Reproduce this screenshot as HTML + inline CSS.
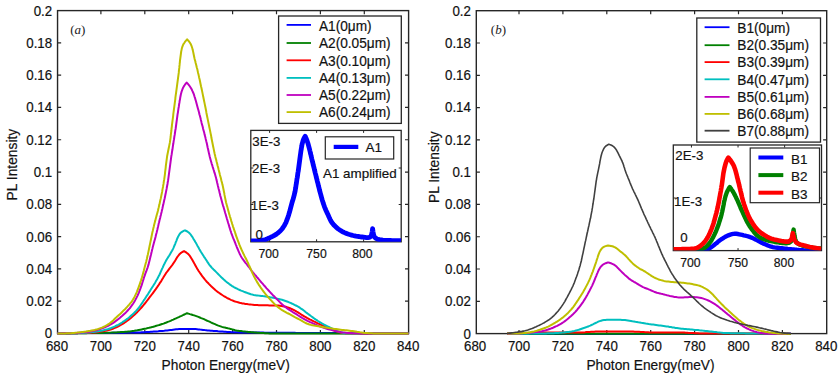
<!DOCTYPE html>
<html><head><meta charset="utf-8"><style>
html,body{margin:0;padding:0;background:#fff;}
body{width:840px;height:377px;overflow:hidden;}
svg{display:block;}
</style></head><body>
<svg width="840" height="377" viewBox="0 0 840 377">
<defs><clipPath id="ca"><rect x="250.8" y="130.4" width="150.4" height="111.4"/></clipPath><clipPath id="cb"><rect x="673.3" y="145" width="148.2" height="105.6"/></clipPath></defs>
<rect width="840" height="377" fill="#fff"/>
<rect x="57.55" y="10.60" width="351.05" height="322.90" fill="none" stroke="#262626" stroke-width="1.4"/>
<path d="M100.90 333.50V329.90M100.90 10.60V14.20M144.80 333.50V329.90M144.80 10.60V14.20M188.70 333.50V329.90M188.70 10.60V14.20M232.60 333.50V329.90M232.60 10.60V14.20M276.50 333.50V329.90M276.50 10.60V14.20M320.40 333.50V329.90M320.40 10.60V14.20M364.30 333.50V329.90M364.30 10.60V14.20M57.55 301.21H61.15M408.60 301.21H405.00M57.55 268.92H61.15M408.60 268.92H405.00M57.55 236.63H61.15M408.60 236.63H405.00M57.55 204.34H61.15M408.60 204.34H405.00M57.55 172.05H61.15M408.60 172.05H405.00M57.55 139.76H61.15M408.60 139.76H405.00M57.55 107.47H61.15M408.60 107.47H405.00M57.55 75.18H61.15M408.60 75.18H405.00M57.55 42.89H61.15M408.60 42.89H405.00" stroke="#262626" stroke-width="1.2" fill="none"/>
<text transform="translate(57.00 350.60) scale(1.000 1.170)" font-family='"Liberation Sans", sans-serif' font-size="13.30" text-anchor="middle" fill="#111" stroke="#111" stroke-width="0.18">680</text>
<text transform="translate(100.90 350.60) scale(1.000 1.170)" font-family='"Liberation Sans", sans-serif' font-size="13.30" text-anchor="middle" fill="#111" stroke="#111" stroke-width="0.18">700</text>
<text transform="translate(144.80 350.60) scale(1.000 1.170)" font-family='"Liberation Sans", sans-serif' font-size="13.30" text-anchor="middle" fill="#111" stroke="#111" stroke-width="0.18">720</text>
<text transform="translate(188.70 350.60) scale(1.000 1.170)" font-family='"Liberation Sans", sans-serif' font-size="13.30" text-anchor="middle" fill="#111" stroke="#111" stroke-width="0.18">740</text>
<text transform="translate(232.60 350.60) scale(1.000 1.170)" font-family='"Liberation Sans", sans-serif' font-size="13.30" text-anchor="middle" fill="#111" stroke="#111" stroke-width="0.18">760</text>
<text transform="translate(276.50 350.60) scale(1.000 1.170)" font-family='"Liberation Sans", sans-serif' font-size="13.30" text-anchor="middle" fill="#111" stroke="#111" stroke-width="0.18">780</text>
<text transform="translate(320.40 350.60) scale(1.000 1.170)" font-family='"Liberation Sans", sans-serif' font-size="13.30" text-anchor="middle" fill="#111" stroke="#111" stroke-width="0.18">800</text>
<text transform="translate(364.30 350.60) scale(1.000 1.170)" font-family='"Liberation Sans", sans-serif' font-size="13.30" text-anchor="middle" fill="#111" stroke="#111" stroke-width="0.18">820</text>
<text transform="translate(408.20 350.60) scale(1.000 1.170)" font-family='"Liberation Sans", sans-serif' font-size="13.30" text-anchor="middle" fill="#111" stroke="#111" stroke-width="0.18">840</text>
<text transform="translate(52.15 338.40) scale(1.000 1.170)" font-family='"Liberation Sans", sans-serif' font-size="13.30" text-anchor="end" fill="#111" stroke="#111" stroke-width="0.18">0</text>
<text transform="translate(52.15 306.11) scale(1.000 1.170)" font-family='"Liberation Sans", sans-serif' font-size="13.30" text-anchor="end" fill="#111" stroke="#111" stroke-width="0.18">0.02</text>
<text transform="translate(52.15 273.82) scale(1.000 1.170)" font-family='"Liberation Sans", sans-serif' font-size="13.30" text-anchor="end" fill="#111" stroke="#111" stroke-width="0.18">0.04</text>
<text transform="translate(52.15 241.53) scale(1.000 1.170)" font-family='"Liberation Sans", sans-serif' font-size="13.30" text-anchor="end" fill="#111" stroke="#111" stroke-width="0.18">0.06</text>
<text transform="translate(52.15 209.24) scale(1.000 1.170)" font-family='"Liberation Sans", sans-serif' font-size="13.30" text-anchor="end" fill="#111" stroke="#111" stroke-width="0.18">0.08</text>
<text transform="translate(52.15 176.95) scale(1.000 1.170)" font-family='"Liberation Sans", sans-serif' font-size="13.30" text-anchor="end" fill="#111" stroke="#111" stroke-width="0.18">0.1</text>
<text transform="translate(52.15 144.66) scale(1.000 1.170)" font-family='"Liberation Sans", sans-serif' font-size="13.30" text-anchor="end" fill="#111" stroke="#111" stroke-width="0.18">0.12</text>
<text transform="translate(52.15 112.37) scale(1.000 1.170)" font-family='"Liberation Sans", sans-serif' font-size="13.30" text-anchor="end" fill="#111" stroke="#111" stroke-width="0.18">0.14</text>
<text transform="translate(52.15 80.08) scale(1.000 1.170)" font-family='"Liberation Sans", sans-serif' font-size="13.30" text-anchor="end" fill="#111" stroke="#111" stroke-width="0.18">0.16</text>
<text transform="translate(52.15 47.79) scale(1.000 1.170)" font-family='"Liberation Sans", sans-serif' font-size="13.30" text-anchor="end" fill="#111" stroke="#111" stroke-width="0.18">0.18</text>
<text transform="translate(52.15 15.50) scale(1.000 1.170)" font-family='"Liberation Sans", sans-serif' font-size="13.30" text-anchor="end" fill="#111" stroke="#111" stroke-width="0.18">0.2</text>
<text transform="translate(225.70 370.10) scale(1.000 1.050)" font-family='"Liberation Sans", sans-serif' font-size="13.75" text-anchor="middle" fill="#111" stroke="#111" stroke-width="0.18">Photon Energy(meV)</text>
<text x="0" y="0" font-family='"Liberation Sans", sans-serif' font-size="13.8" text-anchor="middle" fill="#111" stroke="#111" stroke-width="0.18" transform="translate(17.40 164.60) rotate(-90) scale(1 1.000)">PL Intensity</text>
<path d="M57.5 333.2 L59.0 333.2 L60.5 333.2 L62.0 333.2 L63.5 333.2 L65.0 333.2 L66.5 333.2 L68.0 333.2 L69.5 333.2 L71.0 333.2 L72.5 333.2 L74.0 333.2 L75.5 333.2 L77.0 333.2 L78.6 333.1 L80.1 333.1 L81.6 333.1 L83.1 333.1 L84.6 333.1 L86.1 333.1 L87.6 333.1 L89.1 333.1 L90.6 333.1 L92.1 333.1 L93.6 333.0 L95.1 333.0 L96.6 333.0 L98.1 333.0 L99.6 333.0 L101.1 333.0 L102.6 333.0 L104.1 332.9 L105.6 332.9 L107.1 332.9 L108.6 332.9 L110.1 332.9 L111.6 332.9 L113.1 332.8 L114.6 332.8 L116.1 332.8 L117.6 332.8 L119.1 332.8 L120.6 332.7 L122.2 332.7 L123.7 332.7 L125.2 332.7 L126.7 332.6 L128.2 332.6 L129.7 332.6 L131.2 332.6 L132.7 332.5 L134.2 332.5 L135.7 332.5 L137.2 332.5 L138.7 332.4 L140.2 332.4 L141.7 332.3 L143.2 332.3 L144.7 332.2 L146.2 332.1 L147.7 332.0 L149.2 331.9 L150.7 331.8 L152.2 331.7 L153.7 331.6 L155.2 331.5 L156.7 331.4 L158.2 331.3 L159.7 331.1 L161.2 331.0 L162.7 330.9 L164.2 330.8 L165.7 330.6 L167.2 330.5 L168.7 330.3 L170.2 330.1 L171.7 329.9 L173.1 329.7 L174.6 329.5 L176.1 329.3 L177.6 329.2 L179.1 329.1 L180.6 329.0 L182.1 328.9 L183.6 328.9 L185.1 328.9 L186.6 328.9 L188.1 328.9 L189.6 328.9 L191.1 328.9 L192.6 329.0 L194.1 329.0 L195.6 329.1 L197.1 329.2 L198.6 329.4 L200.1 329.6 L201.6 329.7 L203.1 329.9 L204.6 330.1 L206.1 330.2 L207.6 330.4 L209.1 330.5 L210.6 330.7 L212.1 330.8 L213.6 330.9 L215.1 331.0 L216.6 331.1 L218.1 331.3 L219.6 331.4 L221.1 331.5 L222.6 331.6 L224.1 331.7 L225.6 331.8 L227.1 331.9 L228.6 332.0 L230.1 332.1 L231.6 332.2 L233.1 332.2 L234.6 332.3 L236.1 332.3 L237.6 332.3 L239.1 332.4 L240.6 332.4 L242.1 332.4 L243.6 332.5 L245.1 332.5 L246.6 332.5 L248.1 332.5 L249.6 332.5 L251.1 332.5 L252.6 332.6 L254.1 332.6 L255.6 332.6 L257.1 332.6 L258.6 332.6 L260.1 332.6 L261.7 332.6 L263.2 332.6 L264.7 332.7 L266.2 332.7 L267.7 332.7 L269.2 332.7 L270.7 332.7 L272.2 332.7 L273.7 332.7 L275.2 332.7 L276.7 332.7 L278.2 332.7 L279.7 332.8 L281.2 332.8 L282.7 332.8 L284.2 332.8 L285.7 332.8 L287.2 332.8 L288.7 332.8 L290.2 332.8 L291.7 332.8 L293.2 332.8 L294.7 332.8 L296.2 332.9 L297.7 332.9 L299.2 332.9 L300.7 332.9 L302.2 332.9 L303.8 332.9 L305.3 332.9 L306.8 332.9 L308.3 332.9 L309.8 332.9 L311.3 332.9 L312.8 332.9 L314.3 332.9 L315.8 333.0 L317.3 333.0 L318.8 333.0 L320.3 333.0 L321.8 333.0 L323.3 333.0 L324.8 333.0 L326.3 333.0 L327.8 333.0 L329.3 333.0 L330.8 333.0 L332.3 333.0 L333.8 333.0 L335.3 333.0 L336.8 333.1 L338.3 333.1 L339.8 333.1 L341.3 333.1 L342.8 333.1 L344.3 333.1 L345.9 333.1 L347.4 333.1 L348.9 333.1 L350.4 333.1 L351.9 333.1 L353.4 333.1 L354.9 333.1 L356.4 333.1 L357.9 333.1 L359.4 333.1 L360.9 333.1 L362.4 333.1 L363.9 333.1 L365.4 333.1 L366.9 333.1 L368.4 333.2 L369.9 333.2 L371.4 333.2 L372.9 333.2 L374.4 333.2 L375.9 333.2 L377.4 333.2 L378.9 333.2 L380.4 333.2 L381.9 333.2 L383.4 333.2 L384.9 333.2 L386.4 333.2 L388.0 333.2 L389.5 333.2 L391.0 333.2 L392.5 333.2 L394.0 333.2 L395.5 333.2 L397.0 333.2 L398.5 333.2 L400.0 333.2 L401.5 333.2 L403.0 333.2 L404.5 333.2 L406.0 333.2 L407.5 333.2 L408.5 333.2" fill="none" stroke="#0000ff" stroke-width="2.00" stroke-linejoin="round" stroke-miterlimit="10" stroke-linecap="butt"/>
<path d="M57.5 333.4 L59.0 333.4 L60.5 333.4 L62.0 333.4 L63.5 333.4 L65.0 333.4 L66.5 333.4 L68.1 333.4 L69.6 333.4 L71.1 333.3 L72.6 333.3 L74.1 333.3 L75.6 333.3 L77.1 333.3 L78.6 333.3 L80.1 333.3 L81.6 333.2 L83.1 333.2 L84.6 333.2 L86.2 333.2 L87.7 333.1 L89.2 333.1 L90.7 333.1 L92.2 333.1 L93.7 333.0 L95.2 333.0 L96.7 333.0 L98.2 333.0 L99.7 332.9 L101.2 332.9 L102.7 332.9 L104.2 332.8 L105.8 332.8 L107.3 332.8 L108.8 332.7 L110.3 332.7 L111.8 332.6 L113.3 332.6 L114.8 332.5 L116.3 332.4 L117.8 332.3 L119.3 332.2 L120.8 332.1 L122.3 332.0 L123.8 331.9 L125.3 331.8 L126.8 331.7 L128.3 331.5 L129.8 331.4 L131.3 331.2 L132.8 331.0 L134.3 330.8 L135.8 330.5 L137.3 330.3 L138.8 330.0 L140.3 329.7 L141.7 329.4 L143.2 329.1 L144.7 328.8 L146.2 328.5 L147.6 328.1 L149.1 327.8 L150.6 327.4 L152.0 327.1 L153.5 326.7 L154.9 326.3 L156.4 325.8 L157.8 325.4 L159.3 325.0 L160.7 324.5 L162.1 324.0 L163.6 323.6 L165.0 323.0 L166.4 322.5 L167.8 321.9 L169.2 321.4 L170.6 320.8 L171.9 320.2 L173.3 319.6 L174.7 318.9 L176.1 318.3 L177.5 317.7 L178.8 317.1 L180.2 316.4 L181.6 315.8 L182.9 315.2 L184.3 314.5 L185.6 313.9 L187.0 313.2 L188.4 313.6 L189.9 314.1 L191.3 314.5 L192.8 315.0 L194.2 315.4 L195.6 315.9 L197.0 316.4 L198.4 316.9 L199.8 317.5 L201.2 318.1 L202.6 318.6 L204.0 319.2 L205.4 319.9 L206.7 320.5 L208.1 321.1 L209.5 321.7 L210.9 322.4 L212.2 323.0 L213.6 323.6 L215.0 324.2 L216.4 324.8 L217.7 325.4 L219.1 325.9 L220.6 326.4 L222.0 326.9 L223.4 327.3 L224.9 327.6 L226.4 327.9 L227.8 328.3 L229.3 328.6 L230.7 329.0 L232.2 329.4 L233.6 329.8 L235.1 330.2 L236.5 330.5 L238.0 330.7 L239.5 330.9 L241.0 331.1 L242.5 331.3 L244.0 331.4 L245.5 331.6 L247.0 331.7 L248.5 331.9 L250.0 332.0 L251.5 332.2 L253.0 332.3 L254.5 332.5 L256.0 332.6 L257.5 332.7 L259.0 332.8 L260.5 332.9 L262.0 333.0 L263.5 333.1 L265.0 333.2 L266.5 333.3 L268.0 333.3 L269.5 333.4 L271.0 333.4 L272.5 333.4 L274.0 333.4 L275.5 333.4 L277.0 333.4 L278.5 333.4 L280.0 333.4 L281.5 333.4 L283.1 333.4 L284.6 333.4 L286.1 333.4 L287.6 333.4 L289.1 333.4 L290.6 333.4 L292.1 333.4 L293.6 333.4 L295.1 333.4 L296.6 333.4 L298.1 333.4 L299.6 333.4 L301.1 333.4 L302.6 333.4 L304.1 333.4 L305.6 333.4 L307.1 333.4 L308.6 333.4 L310.1 333.4 L311.7 333.4 L313.2 333.4 L314.7 333.4 L316.2 333.4 L317.7 333.4 L319.2 333.4 L320.7 333.4 L322.2 333.4 L323.7 333.4 L325.2 333.4 L326.7 333.4 L328.2 333.4 L329.7 333.4 L331.2 333.4 L332.7 333.4 L334.2 333.4 L335.7 333.4 L337.2 333.4 L338.7 333.4 L340.3 333.4 L341.8 333.4 L343.3 333.4 L344.8 333.4 L346.3 333.4 L347.8 333.4 L349.3 333.4 L350.8 333.4 L352.3 333.4 L353.8 333.4 L355.3 333.4 L356.8 333.4 L358.3 333.4 L359.8 333.4 L361.3 333.4 L362.8 333.4 L364.3 333.4 L365.8 333.4 L367.4 333.4 L368.9 333.4 L370.4 333.4 L371.9 333.4 L373.4 333.4 L374.9 333.4 L376.4 333.4 L377.9 333.4 L379.4 333.4 L380.9 333.4 L382.4 333.4 L383.9 333.4 L385.4 333.4 L386.9 333.4 L388.4 333.4 L389.9 333.4 L391.4 333.4 L392.9 333.4 L394.4 333.4 L396.0 333.4 L397.5 333.4 L399.0 333.4 L400.5 333.4 L402.0 333.4 L403.5 333.4 L405.0 333.4 L406.5 333.4 L408.0 333.4 L408.5 333.4" fill="none" stroke="#008000" stroke-width="2.00" stroke-linejoin="round" stroke-miterlimit="10" stroke-linecap="butt"/>
<path d="M57.5 333.4 L59.0 333.4 L60.5 333.4 L62.0 333.4 L63.5 333.4 L65.0 333.4 L66.5 333.3 L68.0 333.3 L69.6 333.3 L71.1 333.3 L72.6 333.3 L74.1 333.2 L75.6 333.2 L77.1 333.2 L78.6 333.1 L80.1 333.1 L81.6 333.1 L83.1 333.0 L84.6 333.0 L86.1 332.9 L87.6 332.9 L89.1 332.8 L90.6 332.7 L92.1 332.6 L93.6 332.5 L95.1 332.4 L96.6 332.2 L98.1 332.0 L99.6 331.8 L101.1 331.6 L102.6 331.3 L104.1 331.1 L105.6 330.8 L107.0 330.5 L108.5 330.1 L109.9 329.7 L111.4 329.3 L112.8 328.8 L114.2 328.2 L115.6 327.6 L116.9 327.0 L118.3 326.3 L119.6 325.6 L120.9 324.9 L122.2 324.2 L123.5 323.4 L124.8 322.5 L126.0 321.7 L127.2 320.8 L128.4 319.9 L129.6 319.0 L130.8 318.0 L131.9 317.0 L133.0 316.0 L134.2 315.0 L135.3 314.0 L136.3 312.9 L137.4 311.9 L138.4 310.8 L139.5 309.7 L140.5 308.6 L141.5 307.5 L142.5 306.3 L143.5 305.2 L144.4 304.0 L145.4 302.8 L146.3 301.7 L147.2 300.5 L148.1 299.3 L149.0 298.1 L149.9 296.9 L150.9 295.7 L151.8 294.5 L152.7 293.3 L153.6 292.1 L154.5 290.9 L155.4 289.7 L156.3 288.4 L157.1 287.2 L158.0 285.9 L158.8 284.7 L159.6 283.4 L160.5 282.2 L161.3 280.9 L162.1 279.6 L162.9 278.3 L163.6 277.1 L164.4 275.8 L165.2 274.5 L166.0 273.2 L166.9 272.0 L167.8 270.8 L168.7 269.6 L169.6 268.4 L170.6 267.2 L171.5 266.0 L172.4 264.8 L173.2 263.6 L174.1 262.3 L174.9 261.1 L175.7 259.8 L176.4 258.5 L177.2 257.2 L178.1 256.0 L179.0 254.8 L180.0 253.8 L181.1 252.8 L182.3 252.0 L183.6 251.3 L184.0 251.1 L185.3 251.9 L186.5 252.7 L187.6 253.6 L188.7 254.6 L189.7 255.7 L190.5 256.9 L191.3 258.2 L192.1 259.5 L192.8 260.8 L193.5 262.1 L194.3 263.4 L195.0 264.7 L195.7 266.1 L196.5 267.4 L197.2 268.7 L198.0 269.9 L198.8 271.2 L199.7 272.5 L200.5 273.7 L201.4 274.9 L202.2 276.2 L203.2 277.4 L204.1 278.5 L205.0 279.7 L206.0 280.8 L207.0 282.0 L208.1 283.0 L209.1 284.1 L210.2 285.2 L211.2 286.3 L212.3 287.3 L213.4 288.3 L214.5 289.3 L215.6 290.3 L216.8 291.2 L218.0 292.1 L219.3 293.0 L220.5 293.8 L221.8 294.7 L223.0 295.5 L224.3 296.3 L225.6 297.0 L226.9 297.8 L228.2 298.5 L229.6 299.2 L230.9 299.8 L232.3 300.4 L233.7 301.0 L235.1 301.5 L236.5 301.9 L238.0 302.3 L239.4 302.7 L240.9 303.1 L242.4 303.4 L243.8 303.6 L245.3 303.9 L246.8 304.1 L248.3 304.3 L249.8 304.4 L251.3 304.6 L252.8 304.7 L254.3 304.9 L255.8 305.0 L257.3 305.1 L258.8 305.2 L260.3 305.2 L261.8 305.3 L263.3 305.3 L264.8 305.3 L266.3 305.3 L267.8 305.3 L269.3 305.4 L270.8 305.4 L272.3 305.4 L273.8 305.4 L275.3 305.4 L276.8 305.5 L278.3 305.6 L279.8 305.7 L281.3 305.9 L282.8 306.2 L284.3 306.5 L285.7 306.8 L287.2 307.3 L288.6 307.7 L290.0 308.2 L291.4 308.8 L292.7 309.5 L294.1 310.2 L295.4 310.9 L296.7 311.7 L298.0 312.4 L299.2 313.2 L300.5 314.0 L301.8 314.8 L303.1 315.6 L304.3 316.4 L305.7 317.1 L307.0 317.9 L308.3 318.6 L309.6 319.3 L311.0 319.9 L312.3 320.6 L313.7 321.3 L315.0 321.9 L316.4 322.6 L317.7 323.3 L319.1 323.9 L320.4 324.6 L321.8 325.2 L323.2 325.8 L324.5 326.4 L325.9 327.0 L327.3 327.6 L328.7 328.2 L330.1 328.8 L331.4 329.4 L332.8 330.0 L334.2 330.6 L335.6 331.1 L337.0 331.6 L338.5 332.0 L339.9 332.4 L341.4 332.7 L342.9 332.9 L344.3 333.1 L345.8 333.2 L347.3 333.3 L348.8 333.3 L350.3 333.3 L351.8 333.3 L353.3 333.3 L354.8 333.3 L356.4 333.3 L357.9 333.3 L359.4 333.3 L360.9 333.4 L362.4 333.4 L363.9 333.4 L365.4 333.4 L366.9 333.4 L368.4 333.4 L369.9 333.4 L371.4 333.4 L372.9 333.4 L374.4 333.4 L375.9 333.4 L377.4 333.4 L378.9 333.4 L380.4 333.4 L381.9 333.4 L383.4 333.4 L384.9 333.4 L386.4 333.4 L387.9 333.4 L389.4 333.4 L391.0 333.4 L392.5 333.4 L394.0 333.4 L395.5 333.4 L397.0 333.4 L398.5 333.4 L400.0 333.4 L401.5 333.4 L403.0 333.4 L404.5 333.4 L406.0 333.4 L407.5 333.4 L408.5 333.4" fill="none" stroke="#ff0000" stroke-width="2.00" stroke-linejoin="round" stroke-miterlimit="10" stroke-linecap="butt"/>
<path d="M57.5 333.4 L59.0 333.4 L60.5 333.4 L62.0 333.4 L63.5 333.4 L65.0 333.4 L66.5 333.3 L68.1 333.3 L69.6 333.3 L71.1 333.3 L72.6 333.3 L74.1 333.2 L75.6 333.2 L77.1 333.2 L78.6 333.1 L80.1 333.1 L81.6 333.0 L83.1 332.9 L84.6 332.8 L86.1 332.7 L87.6 332.6 L89.1 332.5 L90.6 332.3 L92.1 332.1 L93.6 331.9 L95.1 331.8 L96.6 331.5 L98.1 331.3 L99.6 331.1 L101.1 330.8 L102.6 330.5 L104.0 330.1 L105.5 329.8 L106.9 329.4 L108.4 329.0 L109.8 328.5 L111.2 328.0 L112.6 327.4 L114.0 326.8 L115.4 326.2 L116.7 325.5 L118.1 324.8 L119.4 324.1 L120.7 323.3 L122.0 322.5 L123.2 321.7 L124.5 320.9 L125.7 320.0 L126.9 319.1 L128.1 318.2 L129.3 317.2 L130.4 316.2 L131.5 315.2 L132.7 314.2 L133.8 313.2 L134.8 312.2 L135.9 311.1 L136.9 310.0 L137.9 308.8 L138.8 307.7 L139.7 306.5 L140.6 305.2 L141.4 304.0 L142.3 302.7 L143.1 301.5 L143.9 300.2 L144.8 299.0 L145.6 297.7 L146.4 296.4 L147.3 295.2 L148.1 293.9 L148.9 292.6 L149.7 291.4 L150.5 290.1 L151.3 288.8 L152.1 287.5 L152.9 286.3 L153.7 285.0 L154.5 283.7 L155.3 282.4 L156.0 281.1 L156.8 279.8 L157.5 278.5 L158.2 277.1 L158.9 275.8 L159.6 274.5 L160.2 273.1 L160.8 271.7 L161.4 270.3 L162.0 268.9 L162.7 267.6 L163.3 266.2 L163.9 264.8 L164.6 263.5 L165.3 262.1 L166.0 260.8 L166.7 259.5 L167.5 258.2 L168.3 256.9 L169.1 255.7 L169.9 254.4 L170.7 253.1 L171.4 251.8 L172.2 250.5 L172.9 249.1 L173.5 247.8 L174.1 246.4 L174.7 245.0 L175.3 243.6 L175.8 242.2 L176.4 240.8 L176.9 239.4 L177.5 238.0 L178.1 236.7 L178.8 235.4 L179.6 234.1 L180.5 233.0 L181.6 232.1 L182.8 231.3 L184.1 230.7 L185.0 230.3 L186.3 231.0 L187.6 231.7 L188.7 232.6 L189.8 233.6 L190.8 234.7 L191.6 235.9 L192.5 237.1 L193.2 238.4 L194.0 239.7 L194.8 241.0 L195.5 242.3 L196.3 243.6 L197.0 244.9 L197.7 246.2 L198.5 247.5 L199.2 248.9 L200.0 250.2 L200.7 251.5 L201.5 252.7 L202.3 254.0 L203.1 255.3 L203.9 256.6 L204.8 257.8 L205.6 259.1 L206.4 260.3 L207.2 261.6 L208.1 262.9 L208.9 264.1 L209.8 265.3 L210.8 266.5 L211.7 267.6 L212.8 268.7 L213.8 269.8 L214.9 270.8 L216.0 271.9 L217.0 272.9 L218.1 274.0 L219.2 275.1 L220.2 276.1 L221.3 277.2 L222.4 278.2 L223.5 279.3 L224.6 280.3 L225.7 281.3 L226.9 282.2 L228.1 283.1 L229.3 284.1 L230.5 284.9 L231.7 285.8 L233.0 286.5 L234.3 287.3 L235.6 288.0 L237.0 288.7 L238.3 289.4 L239.7 290.0 L241.1 290.6 L242.5 291.1 L243.9 291.7 L245.3 292.2 L246.7 292.7 L248.1 293.3 L249.5 293.8 L250.9 294.3 L252.4 294.6 L253.8 295.0 L255.3 295.2 L256.8 295.4 L258.3 295.6 L259.8 295.7 L261.3 295.9 L262.8 296.1 L264.3 296.2 L265.8 296.5 L267.3 296.7 L268.7 296.9 L270.2 297.2 L271.7 297.4 L273.2 297.7 L274.7 298.0 L276.1 298.4 L277.6 298.7 L279.1 299.1 L280.5 299.4 L282.0 299.8 L283.4 300.2 L284.8 300.7 L286.3 301.2 L287.7 301.7 L289.1 302.3 L290.5 302.9 L291.8 303.5 L293.2 304.1 L294.5 304.8 L295.9 305.5 L297.2 306.2 L298.5 306.9 L299.8 307.7 L301.0 308.6 L302.3 309.4 L303.5 310.3 L304.7 311.2 L305.8 312.2 L307.0 313.1 L308.2 314.0 L309.4 314.9 L310.6 315.8 L311.9 316.7 L313.1 317.6 L314.3 318.5 L315.5 319.4 L316.8 320.2 L318.0 321.0 L319.3 321.8 L320.6 322.6 L321.9 323.4 L323.2 324.1 L324.5 324.8 L325.8 325.5 L327.2 326.2 L328.6 326.8 L329.9 327.5 L331.3 328.1 L332.6 328.8 L333.9 329.5 L335.3 330.2 L336.6 330.8 L338.0 331.4 L339.4 331.9 L340.9 332.3 L342.3 332.6 L343.8 332.9 L345.3 333.1 L346.8 333.2 L348.3 333.2 L349.8 333.2 L351.3 333.2 L352.8 333.3 L354.3 333.3 L355.8 333.3 L357.3 333.3 L358.8 333.3 L360.3 333.3 L361.8 333.3 L363.3 333.3 L364.8 333.3 L366.3 333.3 L367.8 333.3 L369.4 333.3 L370.9 333.3 L372.4 333.4 L373.9 333.4 L375.4 333.4 L376.9 333.4 L378.4 333.4 L379.9 333.4 L381.4 333.4 L382.9 333.4 L384.4 333.4 L385.9 333.4 L387.4 333.4 L388.9 333.4 L390.4 333.4 L391.9 333.4 L393.4 333.4 L394.9 333.4 L396.5 333.4 L398.0 333.4 L399.5 333.4 L401.0 333.4 L402.5 333.4 L404.0 333.4 L405.5 333.4 L407.0 333.4 L408.5 333.4" fill="none" stroke="#00bfbf" stroke-width="2.00" stroke-linejoin="round" stroke-miterlimit="10" stroke-linecap="butt"/>
<path d="M57.5 333.4 L59.0 333.4 L60.5 333.4 L62.0 333.4 L63.5 333.3 L65.0 333.3 L66.5 333.3 L68.0 333.2 L69.5 333.2 L71.0 333.2 L72.5 333.1 L74.0 333.0 L75.5 333.0 L77.0 332.9 L78.5 332.8 L80.0 332.8 L81.5 332.6 L83.0 332.5 L84.5 332.3 L86.0 332.1 L87.5 331.9 L89.0 331.7 L90.5 331.4 L91.9 331.2 L93.4 330.9 L94.9 330.5 L96.3 330.2 L97.8 329.8 L99.2 329.4 L100.7 328.9 L102.1 328.4 L103.5 327.9 L104.9 327.4 L106.2 326.7 L107.6 326.1 L108.9 325.4 L110.2 324.7 L111.5 323.9 L112.8 323.1 L114.0 322.3 L115.3 321.4 L116.5 320.5 L117.7 319.6 L118.8 318.7 L120.0 317.7 L121.1 316.7 L122.3 315.7 L123.4 314.7 L124.5 313.7 L125.6 312.7 L126.7 311.6 L127.7 310.5 L128.7 309.4 L129.7 308.3 L130.6 307.1 L131.5 305.9 L132.4 304.7 L133.2 303.5 L134.0 302.2 L134.8 300.9 L135.5 299.6 L136.2 298.3 L136.9 296.9 L137.6 295.6 L138.2 294.2 L138.8 292.8 L139.3 291.4 L139.9 290.0 L140.4 288.6 L140.9 287.2 L141.4 285.8 L141.9 284.4 L142.3 282.9 L142.8 281.5 L143.2 280.1 L143.7 278.6 L144.1 277.2 L144.6 275.8 L145.1 274.4 L145.6 272.9 L146.2 271.5 L146.7 270.1 L147.2 268.7 L147.7 267.3 L148.1 265.9 L148.6 264.4 L148.9 263.0 L149.3 261.5 L149.7 260.1 L150.0 258.6 L150.4 257.1 L150.7 255.7 L151.1 254.2 L151.4 252.8 L151.8 251.3 L152.1 249.8 L152.5 248.4 L152.8 246.9 L153.2 245.5 L153.6 244.0 L154.0 242.6 L154.4 241.1 L154.8 239.7 L155.2 238.2 L155.6 236.8 L155.9 235.3 L156.3 233.8 L156.7 232.4 L157.0 230.9 L157.4 229.5 L157.7 228.0 L158.1 226.5 L158.4 225.1 L158.7 223.6 L159.1 222.2 L159.4 220.7 L159.8 219.2 L160.2 217.8 L160.5 216.3 L160.9 214.9 L161.2 213.4 L161.6 211.9 L161.9 210.5 L162.3 209.0 L162.6 207.5 L162.9 206.1 L163.3 204.6 L163.6 203.1 L163.9 201.7 L164.2 200.2 L164.6 198.7 L164.9 197.3 L165.2 195.8 L165.5 194.3 L165.8 192.9 L166.1 191.4 L166.4 189.9 L166.7 188.4 L166.9 187.0 L167.2 185.5 L167.5 184.0 L167.7 182.5 L168.0 181.0 L168.2 179.5 L168.4 178.1 L168.6 176.6 L168.8 175.1 L169.0 173.6 L169.2 172.1 L169.4 170.6 L169.6 169.1 L169.8 167.6 L170.0 166.1 L170.2 164.6 L170.4 163.2 L170.6 161.7 L170.8 160.2 L171.0 158.7 L171.2 157.2 L171.4 155.7 L171.7 154.2 L171.9 152.7 L172.1 151.3 L172.4 149.8 L172.6 148.3 L172.8 146.8 L173.0 145.3 L173.3 143.8 L173.5 142.4 L173.7 140.9 L174.0 139.4 L174.2 137.9 L174.4 136.4 L174.7 134.9 L174.9 133.4 L175.1 132.0 L175.3 130.5 L175.6 129.0 L175.8 127.5 L176.0 126.0 L176.2 124.5 L176.4 123.0 L176.6 121.5 L176.8 120.1 L177.0 118.6 L177.2 117.1 L177.4 115.6 L177.6 114.1 L177.9 112.6 L178.1 111.1 L178.3 109.6 L178.5 108.2 L178.8 106.7 L179.0 105.2 L179.2 103.7 L179.5 102.2 L179.7 100.7 L180.0 99.3 L180.2 97.8 L180.5 96.3 L180.8 94.8 L181.1 93.4 L181.5 91.9 L182.0 90.5 L182.5 89.1 L183.1 87.7 L183.8 86.4 L184.6 85.2 L185.4 84.0 L186.4 83.0 L186.7 82.6 L187.7 83.7 L188.7 84.8 L189.6 86.0 L190.4 87.2 L191.2 88.5 L191.9 89.8 L192.5 91.2 L193.1 92.5 L193.7 93.9 L194.2 95.4 L194.6 96.8 L195.1 98.2 L195.5 99.7 L195.9 101.1 L196.3 102.6 L196.7 104.0 L197.1 105.5 L197.5 106.9 L197.9 108.4 L198.3 109.8 L198.7 111.3 L199.1 112.7 L199.4 114.2 L199.8 115.6 L200.2 117.1 L200.6 118.5 L200.9 120.0 L201.3 121.4 L201.6 122.9 L202.0 124.4 L202.4 125.8 L202.8 127.3 L203.1 128.7 L203.5 130.2 L203.9 131.6 L204.3 133.1 L204.6 134.6 L205.0 136.0 L205.4 137.5 L205.7 138.9 L206.1 140.4 L206.4 141.8 L206.8 143.3 L207.1 144.8 L207.4 146.2 L207.7 147.7 L208.1 149.2 L208.4 150.7 L208.7 152.1 L209.0 153.6 L209.4 155.1 L209.7 156.5 L210.1 158.0 L210.5 159.4 L210.9 160.9 L211.3 162.3 L211.7 163.8 L212.2 165.2 L212.6 166.6 L213.1 168.1 L213.5 169.5 L214.0 170.9 L214.4 172.4 L214.9 173.8 L215.3 175.2 L215.7 176.7 L216.1 178.1 L216.4 179.6 L216.8 181.1 L217.1 182.5 L217.5 184.0 L217.8 185.4 L218.2 186.9 L218.5 188.4 L218.9 189.8 L219.3 191.3 L219.6 192.7 L220.0 194.2 L220.3 195.7 L220.7 197.1 L221.1 198.6 L221.5 200.0 L221.9 201.5 L222.3 202.9 L222.7 204.4 L223.1 205.8 L223.6 207.2 L224.0 208.7 L224.4 210.1 L224.8 211.6 L225.2 213.0 L225.7 214.5 L226.1 215.9 L226.5 217.3 L226.9 218.8 L227.4 220.2 L227.8 221.7 L228.2 223.1 L228.7 224.5 L229.1 226.0 L229.5 227.4 L230.0 228.9 L230.4 230.3 L230.9 231.7 L231.3 233.1 L231.9 234.6 L232.4 236.0 L232.9 237.4 L233.5 238.8 L234.1 240.2 L234.6 241.5 L235.2 242.9 L235.7 244.3 L236.3 245.7 L236.8 247.1 L237.4 248.5 L238.0 249.9 L238.6 251.3 L239.2 252.7 L239.8 254.0 L240.5 255.4 L241.2 256.7 L242.0 258.0 L242.8 259.2 L243.7 260.4 L244.6 261.6 L245.5 262.8 L246.5 263.9 L247.4 265.1 L248.3 266.3 L249.2 267.5 L250.1 268.7 L251.0 269.9 L251.9 271.1 L252.9 272.3 L253.8 273.4 L254.8 274.6 L255.8 275.7 L256.7 276.9 L257.7 278.0 L258.7 279.2 L259.7 280.3 L260.6 281.5 L261.6 282.6 L262.6 283.7 L263.6 284.9 L264.6 286.0 L265.6 287.1 L266.6 288.3 L267.6 289.4 L268.6 290.5 L269.6 291.6 L270.6 292.7 L271.7 293.8 L272.7 294.9 L273.8 295.9 L274.8 297.0 L275.9 298.1 L276.9 299.1 L278.0 300.2 L279.0 301.3 L280.1 302.4 L281.2 303.4 L282.3 304.4 L283.4 305.4 L284.5 306.4 L285.7 307.3 L286.9 308.2 L288.2 309.1 L289.4 309.9 L290.7 310.7 L291.9 311.5 L293.2 312.3 L294.5 313.1 L295.8 313.9 L297.1 314.7 L298.3 315.5 L299.6 316.3 L300.9 317.1 L302.1 317.9 L303.4 318.6 L304.7 319.4 L306.1 320.1 L307.4 320.8 L308.7 321.4 L310.1 322.1 L311.5 322.7 L312.8 323.3 L314.2 323.9 L315.6 324.6 L316.9 325.2 L318.3 325.8 L319.7 326.4 L321.1 326.9 L322.5 327.4 L323.9 327.9 L325.4 328.3 L326.8 328.8 L328.3 329.2 L329.7 329.5 L331.2 329.9 L332.6 330.3 L334.1 330.6 L335.6 331.0 L337.0 331.3 L338.5 331.6 L340.0 331.9 L341.4 332.2 L342.9 332.4 L344.4 332.6 L345.9 332.8 L347.4 333.0 L348.9 333.1 L350.4 333.1 L351.9 333.2 L353.4 333.2 L354.9 333.3 L356.4 333.3 L357.9 333.3 L359.4 333.4 L360.9 333.4 L362.4 333.4 L363.9 333.4 L365.4 333.4 L366.9 333.4 L368.4 333.4 L369.9 333.4 L371.4 333.4 L372.9 333.4 L374.4 333.4 L375.9 333.4 L377.4 333.4 L378.9 333.4 L380.4 333.4 L381.9 333.4 L383.4 333.4 L385.0 333.4 L386.5 333.4 L388.0 333.4 L389.5 333.4 L391.0 333.4 L392.5 333.4 L394.0 333.4 L395.5 333.4 L397.0 333.4 L398.5 333.4 L400.0 333.4 L401.5 333.4 L403.0 333.4 L404.5 333.4 L406.0 333.4 L407.5 333.4 L408.5 333.4" fill="none" stroke="#bf00bf" stroke-width="2.00" stroke-linejoin="round" stroke-miterlimit="10" stroke-linecap="butt"/>
<path d="M57.5 333.4 L59.0 333.4 L60.5 333.4 L62.0 333.4 L63.5 333.4 L65.0 333.4 L66.5 333.3 L68.0 333.3 L69.5 333.3 L71.0 333.2 L72.5 333.0 L74.0 332.9 L75.5 332.7 L77.0 332.6 L78.5 332.4 L80.0 332.2 L81.5 332.1 L82.9 331.9 L84.4 331.7 L85.9 331.5 L87.4 331.2 L88.9 331.0 L90.4 330.8 L91.8 330.5 L93.3 330.2 L94.8 329.9 L96.2 329.5 L97.7 329.1 L99.1 328.6 L100.5 328.1 L101.9 327.6 L103.3 327.0 L104.6 326.4 L106.0 325.7 L107.3 324.9 L108.5 324.1 L109.8 323.3 L110.9 322.3 L112.1 321.4 L113.2 320.4 L114.3 319.3 L115.3 318.3 L116.4 317.3 L117.5 316.2 L118.6 315.2 L119.8 314.2 L120.9 313.2 L121.9 312.2 L123.0 311.1 L124.1 310.1 L125.2 309.0 L126.2 307.9 L127.2 306.8 L128.2 305.7 L129.2 304.6 L130.2 303.4 L131.1 302.3 L132.0 301.1 L132.9 299.8 L133.6 298.5 L134.4 297.2 L135.0 295.9 L135.7 294.5 L136.3 293.2 L136.9 291.8 L137.4 290.4 L138.0 289.0 L138.5 287.6 L139.0 286.2 L139.5 284.8 L140.0 283.4 L140.5 281.9 L141.0 280.5 L141.4 279.1 L141.9 277.6 L142.3 276.2 L142.7 274.7 L143.1 273.3 L143.5 271.8 L143.9 270.4 L144.2 268.9 L144.6 267.5 L145.0 266.0 L145.4 264.6 L145.8 263.1 L146.2 261.7 L146.5 260.2 L146.9 258.8 L147.2 257.3 L147.5 255.8 L147.9 254.4 L148.2 252.9 L148.5 251.4 L148.8 250.0 L149.1 248.5 L149.4 247.0 L149.7 245.5 L150.0 244.1 L150.3 242.6 L150.6 241.1 L150.9 239.7 L151.2 238.2 L151.5 236.7 L151.8 235.2 L152.1 233.8 L152.4 232.3 L152.8 230.8 L153.1 229.4 L153.4 227.9 L153.8 226.4 L154.1 225.0 L154.5 223.5 L154.9 222.1 L155.3 220.6 L155.6 219.2 L156.0 217.7 L156.4 216.3 L156.8 214.8 L157.2 213.4 L157.6 211.9 L158.0 210.5 L158.3 209.0 L158.7 207.5 L159.0 206.1 L159.4 204.6 L159.7 203.2 L160.0 201.7 L160.3 200.2 L160.7 198.7 L161.0 197.3 L161.3 195.8 L161.6 194.3 L161.9 192.9 L162.2 191.4 L162.4 189.9 L162.7 188.4 L163.0 187.0 L163.2 185.5 L163.5 184.0 L163.7 182.5 L163.9 181.0 L164.2 179.5 L164.4 178.1 L164.6 176.6 L164.8 175.1 L165.0 173.6 L165.1 172.1 L165.3 170.6 L165.5 169.1 L165.7 167.6 L165.8 166.1 L166.0 164.6 L166.2 163.1 L166.4 161.6 L166.6 160.2 L166.8 158.7 L167.0 157.2 L167.2 155.7 L167.5 154.2 L167.8 152.8 L168.1 151.3 L168.4 149.8 L168.7 148.3 L169.0 146.9 L169.3 145.4 L169.6 143.9 L169.9 142.4 L170.1 141.0 L170.3 139.5 L170.5 138.0 L170.7 136.5 L170.8 135.0 L171.0 133.5 L171.2 132.0 L171.4 130.5 L171.5 129.0 L171.7 127.5 L171.9 126.0 L172.0 124.6 L172.2 123.1 L172.4 121.6 L172.6 120.1 L172.8 118.6 L173.0 117.1 L173.2 115.6 L173.3 114.1 L173.5 112.6 L173.7 111.1 L173.9 109.6 L174.1 108.2 L174.3 106.7 L174.5 105.2 L174.7 103.7 L174.9 102.2 L175.1 100.7 L175.3 99.2 L175.4 97.7 L175.6 96.2 L175.8 94.7 L176.0 93.3 L176.2 91.8 L176.4 90.3 L176.6 88.8 L176.8 87.3 L177.0 85.8 L177.2 84.3 L177.4 82.8 L177.6 81.3 L177.8 79.9 L178.0 78.4 L178.2 76.9 L178.4 75.4 L178.6 73.9 L178.8 72.4 L178.9 70.9 L179.1 69.4 L179.3 67.9 L179.4 66.4 L179.6 64.9 L179.7 63.4 L179.9 62.0 L180.0 60.5 L180.2 59.0 L180.4 57.5 L180.6 56.0 L180.8 54.5 L181.0 53.0 L181.2 51.5 L181.5 50.1 L181.8 48.6 L182.2 47.2 L182.7 45.8 L183.3 44.4 L184.1 43.2 L184.9 41.9 L185.8 40.8 L186.8 39.7 L187.1 39.3 L188.1 40.4 L189.0 41.5 L189.9 42.7 L190.7 44.0 L191.3 45.4 L191.8 46.7 L192.3 48.2 L192.6 49.6 L193.0 51.1 L193.3 52.5 L193.6 54.0 L193.9 55.5 L194.2 57.0 L194.5 58.4 L194.9 59.9 L195.3 61.3 L195.6 62.8 L196.0 64.3 L196.4 65.7 L196.7 67.2 L197.1 68.6 L197.5 70.1 L197.8 71.6 L198.1 73.0 L198.5 74.5 L198.8 75.9 L199.1 77.4 L199.5 78.9 L199.8 80.3 L200.1 81.8 L200.4 83.3 L200.7 84.8 L201.0 86.2 L201.4 87.7 L201.7 89.2 L202.0 90.6 L202.3 92.1 L202.6 93.6 L202.9 95.1 L203.2 96.5 L203.5 98.0 L203.8 99.5 L204.1 101.0 L204.4 102.4 L204.7 103.9 L205.0 105.4 L205.3 106.8 L205.6 108.3 L205.9 109.8 L206.2 111.3 L206.4 112.7 L206.7 114.2 L207.0 115.7 L207.3 117.2 L207.6 118.6 L207.9 120.1 L208.2 121.6 L208.5 123.1 L208.8 124.5 L209.1 126.0 L209.4 127.5 L209.7 128.9 L210.0 130.4 L210.3 131.9 L210.6 133.4 L210.9 134.8 L211.2 136.3 L211.4 137.8 L211.7 139.3 L212.0 140.7 L212.3 142.2 L212.6 143.7 L212.9 145.2 L213.2 146.7 L213.5 148.1 L213.8 149.6 L214.1 151.1 L214.4 152.5 L214.7 154.0 L215.1 155.5 L215.4 156.9 L215.8 158.4 L216.2 159.8 L216.5 161.3 L216.9 162.7 L217.3 164.2 L217.6 165.7 L218.0 167.1 L218.4 168.6 L218.7 170.0 L219.1 171.5 L219.5 173.0 L219.8 174.4 L220.2 175.9 L220.6 177.3 L221.0 178.8 L221.3 180.2 L221.7 181.7 L222.1 183.1 L222.4 184.6 L222.8 186.1 L223.1 187.5 L223.4 189.0 L223.7 190.5 L224.0 192.0 L224.3 193.4 L224.5 194.9 L224.8 196.4 L225.1 197.9 L225.4 199.3 L225.7 200.8 L226.0 202.3 L226.4 203.7 L226.8 205.2 L227.2 206.6 L227.6 208.1 L228.0 209.5 L228.4 211.0 L228.8 212.4 L229.2 213.9 L229.6 215.3 L230.0 216.8 L230.5 218.2 L230.9 219.6 L231.3 221.1 L231.8 222.5 L232.2 224.0 L232.7 225.4 L233.1 226.8 L233.6 228.2 L234.1 229.7 L234.6 231.1 L235.1 232.5 L235.5 233.9 L236.0 235.4 L236.5 236.8 L237.0 238.2 L237.5 239.6 L238.0 241.0 L238.6 242.4 L239.1 243.8 L239.6 245.2 L240.2 246.6 L240.8 248.0 L241.4 249.4 L242.0 250.8 L242.7 252.1 L243.3 253.5 L244.0 254.8 L244.6 256.2 L245.3 257.5 L246.0 258.8 L246.7 260.2 L247.3 261.5 L248.0 262.9 L248.6 264.3 L249.2 265.6 L249.8 267.0 L250.4 268.4 L251.0 269.8 L251.6 271.2 L252.2 272.5 L252.8 273.9 L253.5 275.3 L254.1 276.6 L254.8 277.9 L255.5 279.3 L256.3 280.6 L257.0 281.9 L257.8 283.1 L258.6 284.4 L259.4 285.7 L260.3 286.9 L261.1 288.2 L262.0 289.4 L262.9 290.6 L263.8 291.8 L264.7 293.0 L265.6 294.2 L266.6 295.3 L267.5 296.5 L268.5 297.6 L269.5 298.7 L270.6 299.8 L271.6 300.9 L272.6 302.0 L273.7 303.1 L274.7 304.2 L275.8 305.2 L276.9 306.2 L278.1 307.2 L279.3 308.1 L280.5 309.0 L281.7 309.8 L283.0 310.6 L284.3 311.4 L285.6 312.1 L286.9 312.8 L288.3 313.5 L289.6 314.2 L290.9 314.9 L292.2 315.6 L293.5 316.3 L294.9 317.1 L296.2 317.8 L297.5 318.5 L298.8 319.2 L300.2 319.9 L301.5 320.6 L302.8 321.4 L304.0 322.1 L305.4 322.8 L306.7 323.5 L308.1 324.0 L309.5 324.5 L311.0 324.9 L312.4 325.2 L313.9 325.5 L315.4 325.7 L316.9 326.0 L318.3 326.3 L319.8 326.5 L321.3 326.8 L322.8 327.1 L324.2 327.4 L325.7 327.6 L327.2 327.8 L328.7 328.1 L330.2 328.3 L331.7 328.5 L333.2 328.7 L334.6 328.9 L336.1 329.1 L337.6 329.3 L339.1 329.5 L340.6 329.7 L342.1 329.9 L343.6 330.0 L345.1 330.2 L346.6 330.3 L348.1 330.5 L349.6 330.7 L351.1 330.9 L352.6 331.1 L354.0 331.3 L355.5 331.5 L357.0 331.8 L358.5 332.0 L360.0 332.3 L361.5 332.5 L362.9 332.7 L364.4 332.9 L365.9 333.0 L367.4 333.1 L368.9 333.2 L370.4 333.3 L371.9 333.3 L373.4 333.4 L374.9 333.4 L376.4 333.4 L377.9 333.4 L379.4 333.4 L380.9 333.4 L382.4 333.4 L383.9 333.4 L385.5 333.4 L387.0 333.4 L388.5 333.4 L390.0 333.4 L391.5 333.4 L393.0 333.4 L394.5 333.4 L396.0 333.4 L397.5 333.4 L399.0 333.4 L400.5 333.4 L402.0 333.4 L403.5 333.4 L405.0 333.4 L406.5 333.4 L408.0 333.4 L408.5 333.4" fill="none" stroke="#bfbf00" stroke-width="2.00" stroke-linejoin="round" stroke-miterlimit="10" stroke-linecap="butt"/>
<text x="70.2" y="33.6" font-family='"Liberation Serif", serif' font-size="13" fill="#222">(<tspan font-style="italic" dy="0.8">a</tspan><tspan dy="-0.8">)</tspan></text>
<rect x="278.60" y="16.00" width="122.70" height="107.40" fill="#fff" stroke="#262626" stroke-width="1.3"/>
<path d="M286.60 24.90H311.00" stroke="#0000ff" stroke-width="1.80"/>
<text transform="translate(318.90 31.00) scale(1.000 1.030)" font-family='"Liberation Sans", sans-serif' font-size="13.70" text-anchor="start" fill="#111" stroke="#111" stroke-width="0.18">A1(0μm)</text>
<path d="M286.60 43.00H311.00" stroke="#008000" stroke-width="1.80"/>
<text transform="translate(318.90 48.30) scale(1.000 1.030)" font-family='"Liberation Sans", sans-serif' font-size="13.70" text-anchor="start" fill="#111" stroke="#111" stroke-width="0.18">A2(0.05μm)</text>
<path d="M286.60 60.30H311.00" stroke="#ff0000" stroke-width="1.80"/>
<text transform="translate(318.90 65.50) scale(1.000 1.030)" font-family='"Liberation Sans", sans-serif' font-size="13.70" text-anchor="start" fill="#111" stroke="#111" stroke-width="0.18">A3(0.10μm)</text>
<path d="M286.60 77.90H311.00" stroke="#00bfbf" stroke-width="1.80"/>
<text transform="translate(318.90 83.00) scale(1.000 1.030)" font-family='"Liberation Sans", sans-serif' font-size="13.70" text-anchor="start" fill="#111" stroke="#111" stroke-width="0.18">A4(0.13μm)</text>
<path d="M286.60 95.00H311.00" stroke="#bf00bf" stroke-width="1.80"/>
<text transform="translate(318.90 100.10) scale(1.000 1.030)" font-family='"Liberation Sans", sans-serif' font-size="13.70" text-anchor="start" fill="#111" stroke="#111" stroke-width="0.18">A5(0.22μm)</text>
<path d="M286.60 112.10H311.00" stroke="#bfbf00" stroke-width="1.80"/>
<text transform="translate(318.90 117.20) scale(1.000 1.030)" font-family='"Liberation Sans", sans-serif' font-size="13.70" text-anchor="start" fill="#111" stroke="#111" stroke-width="0.18">A6(0.24μm)</text>
<rect x="250.80" y="130.40" width="150.40" height="111.40" fill="#fff" stroke="#262626" stroke-width="1.3"/>
<path d="M269.60 241.80V239.30M269.60 130.40V132.90M316.60 241.80V239.30M316.60 130.40V132.90M363.60 241.80V239.30M363.60 130.40V132.90M250.80 204.50H253.30M401.20 204.50H398.70M250.80 168.00H253.30M401.20 168.00H398.70" stroke="#262626" stroke-width="1" fill="none"/>
<path d="M250.8 241.0 L252.3 241.0 L253.8 240.9 L255.3 240.9 L256.8 240.8 L258.3 240.7 L259.8 240.6 L261.3 240.5 L262.8 240.2 L264.3 239.9 L265.7 239.5 L267.1 238.9 L268.5 238.3 L269.9 237.7 L271.2 237.0 L272.6 236.4 L273.9 235.7 L275.2 234.9 L276.5 234.1 L277.7 233.2 L278.8 232.2 L279.9 231.2 L281.0 230.1 L282.0 229.0 L282.9 227.8 L283.7 226.5 L284.5 225.3 L285.2 223.9 L285.9 222.6 L286.4 221.2 L287.0 219.8 L287.5 218.4 L288.0 216.9 L288.5 215.5 L288.9 214.1 L289.4 212.6 L289.8 211.2 L290.2 209.7 L290.5 208.3 L290.9 206.8 L291.3 205.3 L291.7 203.9 L292.1 202.4 L292.5 201.0 L293.0 199.5 L293.4 198.1 L293.8 196.6 L294.2 195.2 L294.5 193.7 L294.9 192.2 L295.2 190.8 L295.4 189.3 L295.7 187.8 L295.9 186.3 L296.1 184.8 L296.4 183.3 L296.6 181.8 L296.8 180.3 L297.0 178.8 L297.3 177.4 L297.5 175.9 L297.7 174.4 L297.9 172.9 L298.2 171.4 L298.4 169.9 L298.6 168.4 L298.8 166.9 L299.0 165.4 L299.2 163.9 L299.4 162.4 L299.6 160.9 L299.8 159.4 L300.0 157.9 L300.2 156.4 L300.4 154.9 L300.6 153.5 L300.8 152.0 L301.0 150.5 L301.3 149.0 L301.5 147.5 L301.8 146.0 L302.0 144.5 L302.4 143.1 L302.8 141.6 L303.2 140.2 L303.8 138.8 L304.4 137.5 L305.2 136.2 L305.8 137.6 L306.4 139.0 L306.9 140.4 L307.4 141.8 L307.9 143.2 L308.3 144.7 L308.7 146.1 L309.1 147.6 L309.5 149.1 L309.8 150.5 L310.2 152.0 L310.5 153.5 L310.9 154.9 L311.2 156.4 L311.6 157.9 L311.9 159.3 L312.3 160.8 L312.6 162.2 L313.0 163.7 L313.3 165.2 L313.7 166.6 L314.1 168.1 L314.4 169.6 L314.8 171.0 L315.1 172.5 L315.5 174.0 L315.9 175.4 L316.2 176.9 L316.6 178.4 L317.0 179.8 L317.3 181.3 L317.7 182.7 L318.1 184.2 L318.4 185.7 L318.8 187.1 L319.2 188.6 L319.5 190.1 L319.9 191.5 L320.3 193.0 L320.7 194.4 L321.1 195.9 L321.5 197.3 L321.9 198.8 L322.3 200.2 L322.8 201.7 L323.2 203.1 L323.7 204.5 L324.2 206.0 L324.7 207.4 L325.3 208.8 L325.9 210.2 L326.5 211.5 L327.1 212.9 L327.8 214.3 L328.4 215.6 L329.0 217.0 L329.7 218.4 L330.3 219.7 L331.0 221.1 L331.8 222.3 L332.7 223.6 L333.6 224.7 L334.7 225.8 L335.8 226.9 L336.9 227.8 L338.1 228.8 L339.3 229.7 L340.6 230.5 L341.8 231.3 L343.2 232.0 L344.5 232.6 L345.9 233.2 L347.3 233.8 L348.7 234.3 L350.2 234.7 L351.6 235.1 L353.1 235.5 L354.6 235.8 L356.0 236.1 L357.5 236.3 L359.0 236.5 L360.5 236.8 L362.0 237.0 L363.5 237.2 L365.0 237.4 L366.5 237.6 L367.9 237.6 L369.3 237.4 L370.4 236.8 L371.2 235.8 L371.6 234.5 L371.9 233.1 L372.2 231.6 L372.4 230.1 L372.6 228.6 L372.8 230.1 L373.0 231.6 L373.3 233.1 L373.6 234.6 L374.0 236.0 L374.7 237.3 L375.7 238.2 L377.0 238.9 L378.4 239.4 L379.9 239.8 L381.4 240.0 L382.9 240.2 L384.4 240.3 L385.9 240.4 L387.5 240.4 L389.0 240.5 L390.5 240.5 L392.0 240.6 L393.6 240.6 L395.1 240.6 L396.6 240.7 L398.1 240.7 L399.7 240.7 L401.2 240.7" fill="none" stroke="#0000ff" stroke-width="4.80" stroke-linejoin="round" stroke-miterlimit="10" stroke-linecap="butt" clip-path="url(#ca)"/>
<text transform="translate(268.60 258.20) scale(1.000 1.000)" font-family='"Liberation Sans", sans-serif' font-size="12.20" text-anchor="middle" fill="#111" stroke="#111" stroke-width="0.18">700</text>
<text transform="translate(316.50 258.20) scale(1.000 1.000)" font-family='"Liberation Sans", sans-serif' font-size="12.20" text-anchor="middle" fill="#111" stroke="#111" stroke-width="0.18">750</text>
<text transform="translate(362.40 258.20) scale(1.000 1.000)" font-family='"Liberation Sans", sans-serif' font-size="12.20" text-anchor="middle" fill="#111" stroke="#111" stroke-width="0.18">800</text>
<text transform="translate(252.30 145.50) scale(1.000 1.000)" font-family='"Liberation Sans", sans-serif' font-size="13.30" text-anchor="start" fill="#111" stroke="#111" stroke-width="0.18">3E-3</text>
<text transform="translate(252.00 173.40) scale(1.000 1.000)" font-family='"Liberation Sans", sans-serif' font-size="13.30" text-anchor="start" fill="#111" stroke="#111" stroke-width="0.18">2E-3</text>
<text transform="translate(250.80 210.20) scale(1.000 1.000)" font-family='"Liberation Sans", sans-serif' font-size="13.30" text-anchor="start" fill="#111" stroke="#111" stroke-width="0.18">1E-3</text>
<text transform="translate(255.50 238.80) scale(1.000 1.000)" font-family='"Liberation Sans", sans-serif' font-size="13.30" text-anchor="start" fill="#111" stroke="#111" stroke-width="0.18">0</text>
<rect x="325.3" y="136.8" width="68.4" height="22.2" fill="#fff" stroke="#262626" stroke-width="1.2"/>
<path d="M333.7 146.9H358.3" stroke="#0000ff" stroke-width="4.2"/>
<text transform="translate(365.60 152.20) scale(1.000 1.000)" font-family='"Liberation Sans", sans-serif' font-size="13.50" text-anchor="start" fill="#111" stroke="#111" stroke-width="0.18">A1</text>
<text transform="translate(323.00 177.90) scale(1.000 1.000)" font-family='"Liberation Sans", sans-serif' font-size="13.40" text-anchor="start" fill="#111" stroke="#111" stroke-width="0.18">A1 amplified</text>
<rect x="476.30" y="10.70" width="350.40" height="322.90" fill="none" stroke="#262626" stroke-width="1.4"/>
<path d="M519.00 333.60V330.00M519.00 10.70V14.30M562.90 333.60V330.00M562.90 10.70V14.30M606.80 333.60V330.00M606.80 10.70V14.30M650.70 333.60V330.00M650.70 10.70V14.30M694.60 333.60V330.00M694.60 10.70V14.30M738.50 333.60V330.00M738.50 10.70V14.30M782.40 333.60V330.00M782.40 10.70V14.30M476.30 301.31H479.90M826.70 301.31H823.10M476.30 269.02H479.90M826.70 269.02H823.10M476.30 236.73H479.90M826.70 236.73H823.10M476.30 204.44H479.90M826.70 204.44H823.10M476.30 172.15H479.90M826.70 172.15H823.10M476.30 139.86H479.90M826.70 139.86H823.10M476.30 107.57H479.90M826.70 107.57H823.10M476.30 75.28H479.90M826.70 75.28H823.10M476.30 42.99H479.90M826.70 42.99H823.10" stroke="#262626" stroke-width="1.2" fill="none"/>
<text transform="translate(475.10 350.60) scale(1.000 1.170)" font-family='"Liberation Sans", sans-serif' font-size="13.30" text-anchor="middle" fill="#111" stroke="#111" stroke-width="0.18">680</text>
<text transform="translate(519.00 350.60) scale(1.000 1.170)" font-family='"Liberation Sans", sans-serif' font-size="13.30" text-anchor="middle" fill="#111" stroke="#111" stroke-width="0.18">700</text>
<text transform="translate(562.90 350.60) scale(1.000 1.170)" font-family='"Liberation Sans", sans-serif' font-size="13.30" text-anchor="middle" fill="#111" stroke="#111" stroke-width="0.18">720</text>
<text transform="translate(606.80 350.60) scale(1.000 1.170)" font-family='"Liberation Sans", sans-serif' font-size="13.30" text-anchor="middle" fill="#111" stroke="#111" stroke-width="0.18">740</text>
<text transform="translate(650.70 350.60) scale(1.000 1.170)" font-family='"Liberation Sans", sans-serif' font-size="13.30" text-anchor="middle" fill="#111" stroke="#111" stroke-width="0.18">760</text>
<text transform="translate(694.60 350.60) scale(1.000 1.170)" font-family='"Liberation Sans", sans-serif' font-size="13.30" text-anchor="middle" fill="#111" stroke="#111" stroke-width="0.18">780</text>
<text transform="translate(738.50 350.60) scale(1.000 1.170)" font-family='"Liberation Sans", sans-serif' font-size="13.30" text-anchor="middle" fill="#111" stroke="#111" stroke-width="0.18">800</text>
<text transform="translate(782.40 350.60) scale(1.000 1.170)" font-family='"Liberation Sans", sans-serif' font-size="13.30" text-anchor="middle" fill="#111" stroke="#111" stroke-width="0.18">820</text>
<text transform="translate(826.30 350.60) scale(1.000 1.170)" font-family='"Liberation Sans", sans-serif' font-size="13.30" text-anchor="middle" fill="#111" stroke="#111" stroke-width="0.18">840</text>
<text transform="translate(470.90 338.50) scale(1.000 1.170)" font-family='"Liberation Sans", sans-serif' font-size="13.30" text-anchor="end" fill="#111" stroke="#111" stroke-width="0.18">0</text>
<text transform="translate(470.90 306.21) scale(1.000 1.170)" font-family='"Liberation Sans", sans-serif' font-size="13.30" text-anchor="end" fill="#111" stroke="#111" stroke-width="0.18">0.02</text>
<text transform="translate(470.90 273.92) scale(1.000 1.170)" font-family='"Liberation Sans", sans-serif' font-size="13.30" text-anchor="end" fill="#111" stroke="#111" stroke-width="0.18">0.04</text>
<text transform="translate(470.90 241.63) scale(1.000 1.170)" font-family='"Liberation Sans", sans-serif' font-size="13.30" text-anchor="end" fill="#111" stroke="#111" stroke-width="0.18">0.06</text>
<text transform="translate(470.90 209.34) scale(1.000 1.170)" font-family='"Liberation Sans", sans-serif' font-size="13.30" text-anchor="end" fill="#111" stroke="#111" stroke-width="0.18">0.08</text>
<text transform="translate(470.90 177.05) scale(1.000 1.170)" font-family='"Liberation Sans", sans-serif' font-size="13.30" text-anchor="end" fill="#111" stroke="#111" stroke-width="0.18">0.1</text>
<text transform="translate(470.90 144.76) scale(1.000 1.170)" font-family='"Liberation Sans", sans-serif' font-size="13.30" text-anchor="end" fill="#111" stroke="#111" stroke-width="0.18">0.12</text>
<text transform="translate(470.90 112.47) scale(1.000 1.170)" font-family='"Liberation Sans", sans-serif' font-size="13.30" text-anchor="end" fill="#111" stroke="#111" stroke-width="0.18">0.14</text>
<text transform="translate(470.90 80.18) scale(1.000 1.170)" font-family='"Liberation Sans", sans-serif' font-size="13.30" text-anchor="end" fill="#111" stroke="#111" stroke-width="0.18">0.16</text>
<text transform="translate(470.90 47.89) scale(1.000 1.170)" font-family='"Liberation Sans", sans-serif' font-size="13.30" text-anchor="end" fill="#111" stroke="#111" stroke-width="0.18">0.18</text>
<text transform="translate(470.90 15.60) scale(1.000 1.170)" font-family='"Liberation Sans", sans-serif' font-size="13.30" text-anchor="end" fill="#111" stroke="#111" stroke-width="0.18">0.2</text>
<text transform="translate(650.50 370.10) scale(1.000 1.050)" font-family='"Liberation Sans", sans-serif' font-size="13.75" text-anchor="middle" fill="#111" stroke="#111" stroke-width="0.18">Photon Energy(meV)</text>
<text x="0" y="0" font-family='"Liberation Sans", sans-serif' font-size="13.8" text-anchor="middle" fill="#111" stroke="#111" stroke-width="0.18" transform="translate(439.20 167.20) rotate(-90) scale(1 1.000)">PL Intensity</text>
<path d="M507.0 334.1 L508.5 334.1 L510.0 334.1 L511.5 334.1 L513.0 334.1 L514.5 334.1 L516.0 334.1 L517.5 334.1 L519.0 334.1 L520.5 334.1 L522.0 334.1 L523.5 334.1 L525.0 334.1 L526.5 334.1 L528.0 334.1 L529.5 334.1 L531.0 334.1 L532.5 334.1 L534.0 334.1 L535.6 334.1 L537.1 334.1 L538.6 334.1 L540.1 334.1 L541.6 334.1 L543.1 334.1 L544.6 334.1 L546.1 334.1 L547.6 334.1 L549.1 334.1 L550.6 334.1 L552.1 334.1 L553.6 334.1 L555.1 334.1 L556.6 334.1 L558.1 334.1 L559.6 334.1 L561.1 334.1 L562.6 334.1 L564.1 334.1 L565.6 334.1 L567.1 334.1 L568.6 334.1 L570.1 334.1 L571.6 334.1 L573.1 334.1 L574.6 334.1 L576.1 334.1 L577.6 334.1 L579.1 334.1 L580.6 334.1 L582.1 334.1 L583.6 334.1 L585.1 334.1 L586.6 334.1 L588.1 334.1 L589.6 334.1 L591.1 334.1 L592.7 334.1 L594.2 334.1 L595.7 334.1 L597.2 334.1 L598.7 334.1 L600.2 334.1 L601.7 334.1 L603.2 334.1 L604.7 334.1 L606.2 334.1 L607.7 334.1 L609.2 334.1 L610.7 334.1 L612.2 334.1 L613.7 334.1 L615.2 334.1 L616.7 334.1 L618.2 334.1 L619.7 334.1 L621.2 334.1 L622.7 334.1 L624.2 334.1 L625.7 334.1 L627.2 334.1 L628.7 334.1 L630.2 334.1 L631.7 334.1 L633.2 334.1 L634.7 334.1 L636.2 334.1 L637.7 334.1 L639.2 334.1 L640.7 334.1 L642.2 334.1 L643.7 334.1 L645.2 334.1 L646.7 334.1 L648.2 334.1 L649.8 334.1 L651.3 334.1 L652.8 334.1 L654.3 334.1 L655.8 334.1 L657.3 334.1 L658.8 334.1 L660.3 334.1 L661.8 334.1 L663.3 334.1 L664.8 334.1 L666.3 334.1 L667.8 334.1 L669.3 334.1 L670.8 334.1 L672.3 334.1 L673.8 334.1 L675.3 334.1 L676.8 334.1 L678.3 334.1 L679.8 334.1 L681.3 334.1 L682.8 334.1 L684.3 334.1 L685.8 334.1 L687.3 334.1 L688.8 334.1 L690.3 334.1 L691.8 334.1 L693.3 334.1 L694.8 334.1 L696.3 334.1 L697.8 334.1 L699.3 334.1 L700.8 334.1 L702.3 334.1 L703.8 334.1 L705.3 334.1 L706.9 334.1 L708.4 334.1 L709.9 334.1 L711.4 334.1 L712.9 334.1 L714.4 334.1 L715.9 334.1 L717.4 334.1 L718.9 334.1 L720.4 334.1 L721.9 334.1 L723.4 334.1 L724.9 334.1 L726.4 334.1 L727.9 334.1 L729.4 334.1 L730.9 334.1 L732.4 334.1 L733.9 334.1 L735.4 334.1 L736.9 334.1 L738.4 334.1 L739.9 334.1 L741.4 334.1 L742.9 334.1 L744.4 334.1 L745.9 334.1 L747.4 334.1 L748.9 334.1 L750.4 334.1 L751.9 334.1 L753.4 334.1 L754.9 334.1 L756.4 334.1 L757.9 334.1 L759.4 334.1 L760.9 334.1 L762.4 334.1 L764.0 334.1 L765.5 334.1 L767.0 334.1 L768.5 334.1 L770.0 334.1 L771.5 334.1 L773.0 334.1 L774.5 334.1 L776.0 334.1 L777.5 334.1 L779.0 334.1 L780.5 334.1 L782.0 334.1 L783.5 334.1 L785.0 334.1 L786.5 334.1 L788.0 334.1 L789.5 334.1 L791.0 334.1" fill="none" stroke="#0000ff" stroke-width="2.00" stroke-linejoin="round" stroke-miterlimit="10" stroke-linecap="butt"/>
<path d="M507.0 333.8 L508.5 333.8 L510.0 333.8 L511.5 333.8 L513.0 333.8 L514.5 333.8 L516.0 333.8 L517.5 333.8 L519.0 333.8 L520.5 333.8 L522.0 333.8 L523.5 333.8 L525.0 333.8 L526.5 333.8 L528.0 333.8 L529.5 333.8 L531.0 333.8 L532.5 333.8 L534.0 333.8 L535.6 333.8 L537.1 333.8 L538.6 333.8 L540.1 333.8 L541.6 333.8 L543.1 333.8 L544.6 333.8 L546.1 333.8 L547.6 333.8 L549.1 333.8 L550.6 333.8 L552.1 333.8 L553.6 333.8 L555.1 333.8 L556.6 333.8 L558.1 333.8 L559.6 333.8 L561.1 333.8 L562.6 333.8 L564.1 333.8 L565.6 333.8 L567.1 333.8 L568.6 333.8 L570.1 333.8 L571.6 333.8 L573.1 333.8 L574.6 333.8 L576.1 333.8 L577.6 333.8 L579.1 333.8 L580.6 333.8 L582.1 333.8 L583.6 333.8 L585.1 333.8 L586.6 333.8 L588.1 333.8 L589.6 333.8 L591.1 333.8 L592.7 333.8 L594.2 333.8 L595.7 333.8 L597.2 333.8 L598.7 333.8 L600.2 333.8 L601.7 333.8 L603.2 333.8 L604.7 333.8 L606.2 333.8 L607.7 333.8 L609.2 333.8 L610.7 333.8 L612.2 333.8 L613.7 333.8 L615.2 333.8 L616.7 333.8 L618.2 333.8 L619.7 333.8 L621.2 333.8 L622.7 333.8 L624.2 333.8 L625.7 333.8 L627.2 333.8 L628.7 333.8 L630.2 333.8 L631.7 333.8 L633.2 333.8 L634.7 333.8 L636.2 333.8 L637.7 333.8 L639.2 333.8 L640.7 333.8 L642.2 333.8 L643.7 333.8 L645.2 333.8 L646.7 333.8 L648.2 333.8 L649.8 333.8 L651.3 333.8 L652.8 333.8 L654.3 333.8 L655.8 333.8 L657.3 333.8 L658.8 333.8 L660.3 333.8 L661.8 333.8 L663.3 333.8 L664.8 333.8 L666.3 333.8 L667.8 333.8 L669.3 333.8 L670.8 333.8 L672.3 333.8 L673.8 333.8 L675.3 333.8 L676.8 333.8 L678.3 333.8 L679.8 333.8 L681.3 333.8 L682.8 333.8 L684.3 333.8 L685.8 333.8 L687.3 333.8 L688.8 333.8 L690.3 333.8 L691.8 333.8 L693.3 333.8 L694.8 333.8 L696.3 333.8 L697.8 333.8 L699.3 333.8 L700.8 333.8 L702.3 333.8 L703.8 333.8 L705.3 333.8 L706.9 333.8 L708.4 333.8 L709.9 333.8 L711.4 333.8 L712.9 333.8 L714.4 333.8 L715.9 333.8 L717.4 333.8 L718.9 333.8 L720.4 333.8 L721.9 333.8 L723.4 333.8 L724.9 333.8 L726.4 333.8 L727.9 333.8 L729.4 333.8 L730.9 333.8 L732.4 333.8 L733.9 333.8 L735.4 333.8 L736.9 333.8 L738.4 333.8 L739.9 333.8 L741.4 333.8 L742.9 333.8 L744.4 333.8 L745.9 333.8 L747.4 333.8 L748.9 333.8 L750.4 333.8 L751.9 333.8 L753.4 333.8 L754.9 333.8 L756.4 333.8 L757.9 333.8 L759.4 333.8 L760.9 333.8 L762.4 333.8 L764.0 333.8 L765.5 333.8 L767.0 333.8 L768.5 333.8 L770.0 333.8 L771.5 333.8 L773.0 333.8 L774.5 333.8 L776.0 333.8 L777.5 333.8 L779.0 333.8 L780.5 333.8 L782.0 333.8 L783.5 333.8 L785.0 333.8 L786.5 333.8 L788.0 333.8 L789.5 333.8 L791.0 333.8" fill="none" stroke="#008000" stroke-width="2.00" stroke-linejoin="round" stroke-miterlimit="10" stroke-linecap="butt"/>
<path d="M507.0 333.6 L508.5 333.5 L510.0 333.5 L511.5 333.4 L513.0 333.4 L514.5 333.3 L516.0 333.3 L517.5 333.2 L519.0 333.2 L520.5 333.1 L522.0 333.1 L523.5 333.1 L525.0 333.0 L526.5 333.0 L528.0 332.9 L529.5 332.9 L531.0 332.9 L532.5 332.8 L534.0 332.8 L535.5 332.8 L537.1 332.7 L538.6 332.7 L540.1 332.7 L541.6 332.7 L543.1 332.6 L544.6 332.6 L546.1 332.6 L547.6 332.6 L549.1 332.6 L550.6 332.6 L552.1 332.6 L553.6 332.6 L555.1 332.6 L556.6 332.6 L558.1 332.6 L559.6 332.6 L561.1 332.6 L562.6 332.6 L564.1 332.6 L565.6 332.6 L567.1 332.6 L568.6 332.6 L570.1 332.6 L571.6 332.6 L573.1 332.6 L574.6 332.6 L576.1 332.6 L577.6 332.6 L579.1 332.6 L580.6 332.5 L582.1 332.5 L583.6 332.4 L585.1 332.3 L586.6 332.1 L588.1 332.0 L589.6 331.9 L591.1 331.8 L592.6 331.7 L594.1 331.7 L595.6 331.6 L597.1 331.6 L598.6 331.6 L600.1 331.6 L601.6 331.6 L603.1 331.6 L604.7 331.6 L606.2 331.6 L607.7 331.6 L609.2 331.6 L610.7 331.6 L612.2 331.6 L613.7 331.6 L615.2 331.6 L616.7 331.6 L618.2 331.6 L619.7 331.6 L621.2 331.6 L622.7 331.6 L624.2 331.6 L625.7 331.6 L627.2 331.6 L628.7 331.6 L630.2 331.6 L631.7 331.6 L633.2 331.6 L634.7 331.7 L636.2 331.7 L637.7 331.8 L639.2 331.8 L640.7 331.9 L642.2 332.0 L643.7 332.1 L645.2 332.2 L646.7 332.3 L648.2 332.3 L649.7 332.4 L651.2 332.4 L652.7 332.4 L654.2 332.4 L655.7 332.4 L657.2 332.4 L658.7 332.4 L660.2 332.4 L661.7 332.4 L663.3 332.4 L664.8 332.5 L666.3 332.5 L667.8 332.5 L669.3 332.5 L670.8 332.5 L672.3 332.5 L673.8 332.5 L675.3 332.5 L676.8 332.5 L678.3 332.5 L679.8 332.5 L681.3 332.5 L682.8 332.6 L684.3 332.6 L685.8 332.7 L687.3 332.8 L688.8 332.9 L690.3 333.0 L691.8 333.1 L693.3 333.1 L694.8 333.2 L696.3 333.3 L697.8 333.3 L699.3 333.4 L700.8 333.4 L702.3 333.4 L703.8 333.4 L705.3 333.4 L706.8 333.4 L708.3 333.4 L709.8 333.4 L711.3 333.5 L712.8 333.5 L714.3 333.5 L715.8 333.5 L717.3 333.5 L718.8 333.5 L720.4 333.5 L721.9 333.5 L723.4 333.5 L724.9 333.5 L726.4 333.5 L727.9 333.5 L729.4 333.5 L730.9 333.5 L732.4 333.5 L733.9 333.5 L735.4 333.5 L736.9 333.5 L738.4 333.5 L739.9 333.5 L741.4 333.6 L742.9 333.6 L744.4 333.6 L745.9 333.6 L747.4 333.6 L748.9 333.6 L750.4 333.6 L751.9 333.6 L753.4 333.6 L754.9 333.6 L756.4 333.6 L757.9 333.6 L759.4 333.6 L760.9 333.6 L762.4 333.6 L763.9 333.6 L765.4 333.6 L766.9 333.6 L768.5 333.6 L770.0 333.6 L771.5 333.6 L773.0 333.6 L774.5 333.6 L776.0 333.6 L777.5 333.6 L779.0 333.6 L780.5 333.6 L782.0 333.6 L783.5 333.6 L785.0 333.6 L786.5 333.6 L788.0 333.6 L789.5 333.6 L791.0 333.6" fill="none" stroke="#ff0000" stroke-width="2.00" stroke-linejoin="round" stroke-miterlimit="10" stroke-linecap="butt"/>
<path d="M507.0 333.8 L508.5 333.8 L510.0 333.8 L511.5 333.8 L513.0 333.8 L514.5 333.8 L516.0 333.8 L517.5 333.8 L519.0 333.8 L520.5 333.7 L522.0 333.7 L523.5 333.7 L525.0 333.7 L526.6 333.7 L528.1 333.7 L529.6 333.6 L531.1 333.6 L532.6 333.6 L534.1 333.6 L535.6 333.6 L537.1 333.5 L538.6 333.5 L540.1 333.5 L541.6 333.5 L543.1 333.4 L544.6 333.4 L546.1 333.4 L547.6 333.3 L549.1 333.3 L550.6 333.3 L552.1 333.2 L553.6 333.2 L555.1 333.1 L556.6 333.0 L558.1 332.9 L559.6 332.8 L561.1 332.7 L562.6 332.6 L564.1 332.5 L565.6 332.3 L567.1 332.1 L568.6 331.9 L570.1 331.7 L571.6 331.5 L573.0 331.2 L574.5 330.9 L576.0 330.5 L577.4 330.1 L578.8 329.7 L580.3 329.2 L581.7 328.7 L583.1 328.2 L584.5 327.8 L586.0 327.3 L587.4 326.7 L588.8 326.2 L590.2 325.6 L591.5 325.0 L592.9 324.4 L594.2 323.7 L595.6 323.0 L596.9 322.4 L598.3 321.7 L599.6 321.1 L601.1 320.7 L602.5 320.3 L604.0 320.1 L605.4 319.9 L606.9 319.8 L608.4 319.8 L609.9 319.8 L611.4 319.8 L612.9 319.8 L614.4 319.8 L615.9 319.8 L617.4 319.8 L619.0 319.8 L620.5 319.8 L622.0 319.9 L623.5 320.0 L625.0 320.1 L626.4 320.3 L627.9 320.5 L629.4 320.7 L630.9 320.9 L632.4 321.2 L633.9 321.4 L635.4 321.7 L636.8 321.9 L638.3 322.2 L639.8 322.4 L641.3 322.7 L642.8 322.9 L644.2 323.2 L645.7 323.5 L647.2 323.7 L648.7 324.0 L650.2 324.2 L651.7 324.4 L653.2 324.6 L654.6 324.8 L656.1 325.0 L657.6 325.2 L659.1 325.4 L660.6 325.6 L662.1 325.8 L663.6 326.0 L665.1 326.2 L666.6 326.4 L668.1 326.6 L669.5 326.9 L671.0 327.1 L672.5 327.4 L674.0 327.6 L675.5 327.9 L677.0 328.1 L678.4 328.3 L679.9 328.5 L681.4 328.7 L682.9 328.8 L684.4 329.0 L685.9 329.1 L687.4 329.2 L688.9 329.3 L690.4 329.5 L691.9 329.6 L693.4 329.7 L694.9 329.9 L696.4 330.0 L697.9 330.1 L699.4 330.3 L700.9 330.4 L702.4 330.6 L703.9 330.7 L705.4 330.9 L706.9 331.0 L708.4 331.2 L709.9 331.4 L711.4 331.5 L712.9 331.7 L714.4 331.9 L715.9 332.1 L717.3 332.3 L718.8 332.4 L720.3 332.6 L721.8 332.7 L723.3 332.9 L724.8 333.0 L726.3 333.0 L727.8 333.1 L729.3 333.1 L730.8 333.2 L732.3 333.2 L733.8 333.2 L735.4 333.2 L736.9 333.3 L738.4 333.3 L739.9 333.3 L741.4 333.3 L742.9 333.3 L744.4 333.3 L745.9 333.4 L747.4 333.4 L748.9 333.4 L750.4 333.4 L751.9 333.4 L753.4 333.4 L754.9 333.5 L756.4 333.5 L757.9 333.5 L759.4 333.5 L760.9 333.5 L762.4 333.5 L763.9 333.5 L765.4 333.5 L766.9 333.5 L768.4 333.5 L769.9 333.6 L771.4 333.6 L773.0 333.6 L774.5 333.6 L776.0 333.6 L777.5 333.6 L779.0 333.6 L780.5 333.6 L782.0 333.6 L783.5 333.6 L785.0 333.6 L786.5 333.6 L788.0 333.6 L789.5 333.6 L791.0 333.6" fill="none" stroke="#00bfbf" stroke-width="2.00" stroke-linejoin="round" stroke-miterlimit="10" stroke-linecap="butt"/>
<path d="M507.0 333.7 L508.5 333.7 L510.0 333.7 L511.5 333.6 L513.0 333.6 L514.5 333.6 L516.1 333.5 L517.6 333.5 L519.1 333.4 L520.6 333.4 L522.1 333.3 L523.6 333.2 L525.1 333.1 L526.6 333.0 L528.1 332.9 L529.6 332.7 L531.1 332.6 L532.6 332.4 L534.1 332.3 L535.6 332.1 L537.1 331.9 L538.6 331.7 L540.1 331.4 L541.6 331.2 L543.1 330.9 L544.5 330.6 L546.0 330.2 L547.4 329.8 L548.9 329.3 L550.3 328.8 L551.7 328.2 L553.1 327.7 L554.5 327.0 L555.8 326.4 L557.2 325.8 L558.5 325.1 L559.9 324.4 L561.2 323.6 L562.4 322.8 L563.7 322.0 L564.9 321.1 L566.1 320.2 L567.3 319.3 L568.5 318.3 L569.6 317.3 L570.8 316.3 L571.9 315.3 L573.0 314.3 L574.0 313.2 L575.1 312.1 L576.1 311.0 L577.1 309.9 L578.0 308.7 L579.0 307.5 L579.9 306.3 L580.8 305.1 L581.7 303.9 L582.6 302.7 L583.4 301.4 L584.2 300.1 L585.0 298.9 L585.8 297.6 L586.5 296.3 L587.3 294.9 L588.0 293.6 L588.7 292.3 L589.4 291.0 L590.1 289.6 L590.8 288.3 L591.5 286.9 L592.2 285.6 L592.8 284.2 L593.4 282.8 L594.0 281.4 L594.6 280.0 L595.1 278.6 L595.7 277.2 L596.3 275.8 L596.8 274.4 L597.4 273.1 L598.0 271.7 L598.6 270.3 L599.3 269.0 L600.1 267.7 L601.0 266.5 L602.0 265.5 L603.1 264.5 L604.3 263.8 L605.7 263.2 L607.1 262.7 L608.0 262.4 L609.4 262.8 L610.9 263.2 L612.2 263.8 L613.5 264.4 L614.8 265.2 L615.9 266.1 L617.0 267.1 L618.1 268.2 L619.1 269.3 L620.2 270.4 L621.2 271.4 L622.3 272.5 L623.4 273.5 L624.5 274.6 L625.5 275.6 L626.7 276.6 L627.8 277.6 L628.9 278.6 L630.1 279.4 L631.4 280.3 L632.7 281.0 L634.0 281.8 L635.3 282.5 L636.6 283.3 L637.9 284.1 L639.1 284.9 L640.4 285.7 L641.7 286.4 L643.0 287.1 L644.4 287.7 L645.8 288.2 L647.2 288.7 L648.6 289.3 L650.0 289.9 L651.3 290.5 L652.7 291.1 L654.1 291.7 L655.5 292.2 L656.9 292.7 L658.3 293.1 L659.8 293.4 L661.2 293.8 L662.7 294.1 L664.1 294.5 L665.6 294.9 L667.0 295.3 L668.5 295.6 L670.0 296.0 L671.4 296.3 L672.9 296.6 L674.4 296.9 L675.9 297.1 L677.4 297.3 L678.8 297.4 L680.3 297.5 L681.8 297.4 L683.3 297.4 L684.8 297.3 L686.3 297.2 L687.8 297.2 L689.4 297.1 L690.9 297.1 L692.4 297.1 L693.9 297.1 L695.4 297.2 L696.9 297.3 L698.3 297.4 L699.8 297.7 L701.3 298.0 L702.7 298.4 L704.1 298.9 L705.5 299.4 L706.9 299.9 L708.3 300.5 L709.7 301.2 L711.0 301.9 L712.3 302.6 L713.6 303.4 L714.9 304.2 L716.1 305.0 L717.3 305.9 L718.5 306.8 L719.7 307.7 L720.9 308.7 L722.0 309.6 L723.2 310.6 L724.4 311.5 L725.5 312.5 L726.7 313.4 L727.9 314.4 L729.0 315.3 L730.2 316.3 L731.3 317.3 L732.5 318.2 L733.7 319.2 L734.8 320.1 L736.0 321.1 L737.2 322.0 L738.4 322.9 L739.6 323.8 L740.8 324.6 L742.1 325.5 L743.3 326.3 L744.6 327.1 L745.9 327.8 L747.2 328.5 L748.6 329.2 L750.0 329.8 L751.3 330.4 L752.8 330.9 L754.2 331.4 L755.6 331.8 L757.1 332.2 L758.5 332.5 L760.0 332.9 L761.5 333.1 L763.0 333.3 L764.4 333.5 L765.9 333.6 L767.4 333.6 L768.9 333.7 L770.4 333.7 L772.0 333.7 L773.5 333.7 L775.0 333.7 L776.5 333.7 L778.0 333.8 L779.5 333.8 L781.0 333.8 L782.5 333.8 L784.0 333.8 L785.5 333.8 L787.0 333.8 L788.5 333.8 L790.0 333.8 L791.0 333.8" fill="none" stroke="#bf00bf" stroke-width="2.00" stroke-linejoin="round" stroke-miterlimit="10" stroke-linecap="butt"/>
<path d="M507.0 333.6 L508.5 333.6 L510.0 333.6 L511.5 333.6 L513.0 333.5 L514.5 333.5 L516.1 333.5 L517.6 333.4 L519.1 333.4 L520.6 333.3 L522.1 333.2 L523.6 333.1 L525.1 333.0 L526.6 332.8 L528.1 332.6 L529.6 332.4 L531.0 332.1 L532.5 331.8 L534.0 331.5 L535.4 331.1 L536.9 330.7 L538.3 330.2 L539.8 329.8 L541.2 329.3 L542.6 328.8 L544.1 328.3 L545.5 327.8 L546.8 327.2 L548.2 326.6 L549.6 325.9 L550.9 325.2 L552.2 324.5 L553.5 323.7 L554.8 323.0 L556.1 322.2 L557.4 321.4 L558.7 320.5 L559.9 319.7 L561.1 318.8 L562.3 317.9 L563.5 316.9 L564.6 316.0 L565.8 315.0 L566.9 313.9 L568.0 312.9 L569.0 311.8 L570.0 310.7 L571.1 309.6 L572.0 308.5 L573.0 307.3 L573.9 306.1 L574.8 304.9 L575.6 303.6 L576.5 302.4 L577.3 301.1 L578.2 299.9 L579.0 298.6 L579.8 297.3 L580.6 296.1 L581.4 294.8 L582.2 293.5 L583.0 292.2 L583.7 290.9 L584.5 289.6 L585.2 288.3 L585.9 286.9 L586.6 285.6 L587.3 284.3 L588.0 282.9 L588.6 281.6 L589.3 280.2 L589.9 278.8 L590.5 277.4 L591.0 276.0 L591.6 274.6 L592.1 273.2 L592.7 271.8 L593.2 270.4 L593.7 269.0 L594.2 267.6 L594.7 266.1 L595.2 264.7 L595.7 263.3 L596.2 261.8 L596.6 260.4 L597.1 259.0 L597.6 257.5 L598.0 256.1 L598.5 254.7 L599.0 253.3 L599.6 251.9 L600.3 250.6 L601.1 249.4 L602.0 248.3 L603.1 247.3 L604.3 246.6 L605.6 246.1 L607.0 245.7 L608.0 245.5 L609.5 245.7 L610.9 246.0 L612.4 246.3 L613.8 246.8 L615.1 247.4 L616.3 248.2 L617.5 249.0 L618.7 250.0 L619.8 250.9 L621.0 251.9 L622.2 252.8 L623.3 253.8 L624.5 254.7 L625.6 255.8 L626.6 256.8 L627.6 257.9 L628.6 259.1 L629.6 260.2 L630.6 261.3 L631.7 262.4 L632.7 263.4 L633.9 264.4 L635.0 265.4 L636.2 266.3 L637.4 267.2 L638.7 268.0 L639.9 268.8 L641.2 269.5 L642.6 270.2 L643.9 271.0 L645.2 271.7 L646.4 272.5 L647.7 273.3 L648.9 274.2 L650.2 275.0 L651.4 275.9 L652.7 276.6 L654.0 277.4 L655.3 278.0 L656.7 278.6 L658.1 279.2 L659.5 279.7 L661.0 280.1 L662.4 280.5 L663.9 280.9 L665.3 281.2 L666.8 281.4 L668.3 281.6 L669.8 281.8 L671.3 282.0 L672.8 282.1 L674.3 282.2 L675.8 282.3 L677.3 282.4 L678.8 282.5 L680.3 282.6 L681.8 282.7 L683.3 282.8 L684.8 283.0 L686.3 283.2 L687.8 283.4 L689.2 283.6 L690.7 283.8 L692.2 284.1 L693.7 284.4 L695.2 284.7 L696.6 285.0 L698.1 285.4 L699.5 285.8 L700.9 286.3 L702.3 286.9 L703.6 287.6 L705.0 288.3 L706.2 289.0 L707.5 289.9 L708.7 290.8 L709.8 291.7 L710.9 292.7 L712.0 293.8 L713.1 294.8 L714.1 296.0 L715.1 297.1 L716.1 298.2 L717.1 299.3 L718.1 300.4 L719.1 301.5 L720.2 302.6 L721.2 303.7 L722.3 304.8 L723.3 305.8 L724.4 306.9 L725.5 307.9 L726.6 308.9 L727.7 309.9 L728.8 311.0 L729.9 312.0 L731.0 313.0 L732.1 314.0 L733.2 315.1 L734.3 316.1 L735.5 317.1 L736.6 318.0 L737.7 319.0 L738.9 320.0 L740.1 320.9 L741.3 321.8 L742.5 322.7 L743.7 323.5 L745.0 324.4 L746.3 325.1 L747.6 325.9 L748.9 326.6 L750.2 327.3 L751.6 327.9 L753.0 328.4 L754.4 328.9 L755.8 329.4 L757.3 329.9 L758.7 330.3 L760.2 330.6 L761.6 331.0 L763.1 331.3 L764.6 331.6 L766.1 331.9 L767.5 332.1 L769.0 332.4 L770.5 332.6 L772.0 332.8 L773.5 333.0 L775.0 333.1 L776.5 333.2 L778.0 333.4 L779.5 333.5 L781.0 333.5 L782.5 333.6 L784.0 333.7 L785.5 333.8 L787.0 333.8 L788.5 333.9 L790.0 333.9 L791.0 333.9" fill="none" stroke="#bfbf00" stroke-width="2.00" stroke-linejoin="round" stroke-miterlimit="10" stroke-linecap="butt"/>
<path d="M507.0 333.5 L508.5 333.3 L510.0 333.1 L511.5 332.9 L513.0 332.7 L514.5 332.5 L516.0 332.3 L517.4 332.1 L518.9 331.8 L520.4 331.6 L521.9 331.4 L523.4 331.1 L524.9 330.8 L526.3 330.4 L527.8 330.0 L529.2 329.5 L530.6 329.0 L532.0 328.5 L533.4 327.9 L534.8 327.3 L536.2 326.7 L537.5 326.1 L538.9 325.4 L540.2 324.8 L541.6 324.1 L542.9 323.4 L544.2 322.7 L545.5 321.9 L546.8 321.1 L548.1 320.3 L549.3 319.5 L550.5 318.6 L551.7 317.6 L552.8 316.6 L553.9 315.6 L555.0 314.5 L556.0 313.4 L557.0 312.3 L558.0 311.2 L558.9 310.0 L559.9 308.8 L560.8 307.6 L561.6 306.4 L562.5 305.1 L563.3 303.9 L564.1 302.6 L564.9 301.3 L565.6 300.0 L566.3 298.7 L567.1 297.4 L567.8 296.0 L568.5 294.7 L569.2 293.4 L569.9 292.0 L570.6 290.7 L571.3 289.4 L571.9 288.0 L572.6 286.6 L573.2 285.3 L573.8 283.9 L574.4 282.5 L574.9 281.1 L575.4 279.7 L575.9 278.3 L576.5 276.8 L577.0 275.4 L577.5 274.0 L577.9 272.6 L578.4 271.2 L578.9 269.7 L579.3 268.3 L579.7 266.8 L580.2 265.4 L580.5 263.9 L580.9 262.5 L581.3 261.0 L581.6 259.5 L581.9 258.1 L582.2 256.6 L582.5 255.1 L582.9 253.6 L583.2 252.2 L583.5 250.7 L583.8 249.2 L584.1 247.7 L584.4 246.3 L584.7 244.8 L585.0 243.3 L585.3 241.9 L585.7 240.4 L586.0 238.9 L586.3 237.4 L586.6 236.0 L586.9 234.5 L587.2 233.0 L587.6 231.5 L587.9 230.1 L588.2 228.6 L588.5 227.1 L588.9 225.7 L589.2 224.2 L589.5 222.7 L589.8 221.3 L590.1 219.8 L590.5 218.3 L590.8 216.8 L591.0 215.4 L591.3 213.9 L591.6 212.4 L591.9 210.9 L592.1 209.4 L592.4 207.9 L592.6 206.5 L592.8 205.0 L593.1 203.5 L593.3 202.0 L593.5 200.5 L593.8 199.0 L594.0 197.5 L594.2 196.0 L594.4 194.5 L594.6 193.0 L594.8 191.5 L595.0 190.1 L595.2 188.6 L595.4 187.1 L595.6 185.6 L595.8 184.1 L596.0 182.6 L596.2 181.1 L596.5 179.6 L596.7 178.1 L597.0 176.7 L597.3 175.2 L597.6 173.7 L597.9 172.2 L598.2 170.8 L598.5 169.3 L598.8 167.8 L599.1 166.3 L599.4 164.8 L599.7 163.4 L599.9 161.9 L600.2 160.4 L600.5 158.9 L600.8 157.4 L601.1 156.0 L601.5 154.5 L601.9 153.1 L602.4 151.7 L603.0 150.3 L603.6 149.0 L604.4 147.7 L605.3 146.6 L606.3 145.7 L607.5 145.0 L608.8 144.3 L610.2 144.7 L611.5 145.3 L612.8 146.0 L613.9 146.9 L614.9 147.9 L615.8 149.1 L616.6 150.3 L617.3 151.6 L618.0 152.9 L618.7 154.3 L619.3 155.6 L620.0 157.0 L620.7 158.3 L621.3 159.7 L622.0 161.0 L622.5 162.4 L623.1 163.8 L623.6 165.2 L624.0 166.7 L624.5 168.1 L624.9 169.5 L625.4 171.0 L625.9 172.4 L626.4 173.8 L627.0 175.2 L627.6 176.6 L628.1 178.0 L628.7 179.4 L629.3 180.8 L629.8 182.2 L630.4 183.6 L630.9 184.9 L631.5 186.3 L632.1 187.7 L632.7 189.1 L633.4 190.5 L634.0 191.8 L634.7 193.2 L635.3 194.5 L636.0 195.9 L636.6 197.2 L637.3 198.6 L637.9 199.9 L638.5 201.3 L639.1 202.7 L639.7 204.1 L640.3 205.5 L640.8 206.9 L641.4 208.3 L642.0 209.6 L642.6 211.0 L643.2 212.4 L643.8 213.8 L644.4 215.1 L645.1 216.5 L645.7 217.9 L646.3 219.3 L647.0 220.6 L647.6 222.0 L648.2 223.3 L648.9 224.7 L649.5 226.1 L650.2 227.4 L650.8 228.8 L651.5 230.1 L652.2 231.5 L652.8 232.8 L653.5 234.2 L654.1 235.5 L654.8 236.9 L655.4 238.3 L656.0 239.6 L656.5 241.0 L657.1 242.4 L657.7 243.8 L658.2 245.2 L658.8 246.6 L659.4 248.0 L659.9 249.4 L660.5 250.8 L661.1 252.2 L661.7 253.6 L662.3 254.9 L662.9 256.3 L663.6 257.7 L664.2 259.0 L664.9 260.3 L665.6 261.7 L666.3 263.0 L666.9 264.4 L667.6 265.7 L668.3 267.1 L669.0 268.4 L669.7 269.7 L670.4 271.1 L671.1 272.4 L671.9 273.7 L672.7 274.9 L673.5 276.2 L674.3 277.5 L675.2 278.7 L676.1 279.9 L676.9 281.1 L677.9 282.3 L678.8 283.5 L679.7 284.7 L680.7 285.8 L681.7 286.9 L682.8 288.0 L683.8 289.1 L684.9 290.1 L686.0 291.1 L687.1 292.1 L688.3 293.1 L689.4 294.1 L690.5 295.1 L691.6 296.2 L692.7 297.2 L693.8 298.2 L694.9 299.3 L695.9 300.3 L697.0 301.4 L698.1 302.4 L699.2 303.5 L700.3 304.5 L701.4 305.5 L702.6 306.4 L703.7 307.4 L704.9 308.3 L706.1 309.2 L707.4 310.1 L708.6 310.9 L709.9 311.7 L711.1 312.6 L712.4 313.4 L713.7 314.2 L714.9 315.0 L716.2 315.7 L717.6 316.4 L718.9 317.1 L720.3 317.7 L721.7 318.3 L723.1 318.8 L724.5 319.3 L725.9 319.8 L727.3 320.3 L728.8 320.7 L730.2 321.2 L731.6 321.6 L733.1 322.0 L734.5 322.4 L736.0 322.8 L737.5 323.1 L738.9 323.5 L740.4 323.8 L741.8 324.1 L743.3 324.5 L744.8 324.8 L746.3 325.1 L747.7 325.4 L749.2 325.6 L750.7 325.9 L752.2 326.2 L753.6 326.5 L755.1 326.8 L756.6 327.1 L758.1 327.4 L759.5 327.8 L761.0 328.1 L762.5 328.4 L763.9 328.8 L765.4 329.1 L766.8 329.5 L768.3 329.9 L769.8 330.2 L771.2 330.6 L772.7 330.9 L774.2 331.3 L775.6 331.6 L777.1 331.9 L778.6 332.2 L780.0 332.5 L781.5 332.7 L783.0 332.9 L784.5 333.1 L786.0 333.3 L787.5 333.4 L789.0 333.5 L790.5 333.7 L791.0 333.7" fill="none" stroke="#404040" stroke-width="1.60" stroke-linejoin="round" stroke-miterlimit="10" stroke-linecap="butt"/>
<text x="490.8" y="33.6" font-family='"Liberation Serif", serif' font-size="13" fill="#222">(<tspan font-style="italic">b</tspan>)</text>
<rect x="696.80" y="18.00" width="123.70" height="124.10" fill="#fff" stroke="#262626" stroke-width="1.3"/>
<path d="M704.60 27.20H729.50" stroke="#0000ff" stroke-width="1.80"/>
<text transform="translate(737.30 33.00) scale(1.000 1.030)" font-family='"Liberation Sans", sans-serif' font-size="13.70" text-anchor="start" fill="#111" stroke="#111" stroke-width="0.18">B1(0μm)</text>
<path d="M704.60 45.20H729.50" stroke="#008000" stroke-width="1.80"/>
<text transform="translate(737.30 50.30) scale(1.000 1.030)" font-family='"Liberation Sans", sans-serif' font-size="13.70" text-anchor="start" fill="#111" stroke="#111" stroke-width="0.18">B2(0.35μm)</text>
<path d="M704.60 62.10H729.50" stroke="#ff0000" stroke-width="1.80"/>
<text transform="translate(737.30 66.80) scale(1.000 1.030)" font-family='"Liberation Sans", sans-serif' font-size="13.70" text-anchor="start" fill="#111" stroke="#111" stroke-width="0.18">B3(0.39μm)</text>
<path d="M704.60 79.30H729.50" stroke="#00bfbf" stroke-width="1.80"/>
<text transform="translate(737.30 84.80) scale(1.000 1.030)" font-family='"Liberation Sans", sans-serif' font-size="13.70" text-anchor="start" fill="#111" stroke="#111" stroke-width="0.18">B4(0.47μm)</text>
<path d="M704.60 96.90H729.50" stroke="#bf00bf" stroke-width="1.80"/>
<text transform="translate(737.30 101.90) scale(1.000 1.030)" font-family='"Liberation Sans", sans-serif' font-size="13.70" text-anchor="start" fill="#111" stroke="#111" stroke-width="0.18">B5(0.61μm)</text>
<path d="M704.60 113.90H729.50" stroke="#bfbf00" stroke-width="1.80"/>
<text transform="translate(737.30 119.10) scale(1.000 1.030)" font-family='"Liberation Sans", sans-serif' font-size="13.70" text-anchor="start" fill="#111" stroke="#111" stroke-width="0.18">B6(0.68μm)</text>
<path d="M704.60 130.70H729.50" stroke="#404040" stroke-width="1.80"/>
<text transform="translate(737.30 136.10) scale(1.000 1.030)" font-family='"Liberation Sans", sans-serif' font-size="13.70" text-anchor="start" fill="#111" stroke="#111" stroke-width="0.18">B7(0.88μm)</text>
<rect x="673.30" y="145.00" width="148.20" height="105.60" fill="#fff" stroke="#262626" stroke-width="1.3"/>
<path d="M691.44 250.60V248.10M691.44 145.00V147.50M738.04 250.60V248.10M738.04 145.00V147.50M784.64 250.60V248.10M784.64 145.00V147.50M673.30 198.00H675.80M821.50 198.00H819.00" stroke="#262626" stroke-width="1" fill="none"/>
<path d="M673.3 251.2 L674.8 251.2 L676.3 251.2 L677.8 251.2 L679.3 251.2 L680.8 251.2 L682.3 251.2 L683.8 251.2 L685.4 251.2 L686.9 251.1 L688.4 251.1 L689.9 251.1 L691.4 251.1 L692.9 251.1 L694.4 251.1 L695.9 251.0 L697.4 251.0 L698.9 250.9 L700.4 250.7 L701.9 250.5 L703.4 250.2 L704.8 249.9 L706.3 249.5 L707.7 249.0 L709.1 248.4 L710.4 247.7 L711.6 246.9 L712.9 246.0 L714.1 245.1 L715.2 244.1 L716.4 243.2 L717.6 242.2 L718.7 241.2 L719.9 240.3 L721.1 239.4 L722.4 238.6 L723.6 237.8 L724.9 237.0 L726.3 236.3 L727.6 235.6 L729.0 235.1 L730.4 234.6 L731.9 234.2 L733.3 233.9 L734.8 233.8 L736.3 233.8 L737.8 234.0 L739.3 234.3 L740.7 234.6 L742.2 234.9 L743.7 235.3 L745.2 235.6 L746.6 236.0 L748.1 236.4 L749.5 236.8 L750.9 237.4 L752.3 237.9 L753.7 238.6 L755.0 239.2 L756.3 239.9 L757.7 240.6 L759.0 241.3 L760.4 242.0 L761.7 242.7 L763.0 243.4 L764.4 244.0 L765.8 244.6 L767.2 245.2 L768.6 245.8 L770.0 246.3 L771.4 246.7 L772.9 247.1 L774.4 247.4 L775.8 247.6 L777.3 247.8 L778.8 248.0 L780.3 248.2 L781.8 248.3 L783.3 248.5 L784.8 248.7 L786.3 248.8 L787.8 249.0 L789.3 249.1 L790.8 249.2 L792.3 249.4 L793.8 249.5 L795.3 249.6 L796.8 249.8 L798.3 249.9 L799.8 250.1 L801.3 250.2 L802.8 250.3 L804.3 250.4 L805.8 250.5 L807.3 250.6 L808.8 250.7 L810.4 250.7 L811.9 250.8 L813.4 250.8 L814.9 250.9 L816.4 250.9 L817.9 251.0 L819.4 251.0 L820.9 251.0 L821.4 251.0" fill="none" stroke="#0000ff" stroke-width="4.40" stroke-linejoin="round" stroke-miterlimit="10" stroke-linecap="butt" clip-path="url(#cb)"/>
<path d="M673.3 249.8 L674.8 249.8 L676.3 249.8 L677.8 249.8 L679.3 249.8 L680.9 249.8 L682.4 249.8 L683.9 249.8 L685.4 249.8 L686.9 249.8 L688.4 249.7 L689.9 249.7 L691.4 249.7 L693.0 249.7 L694.5 249.7 L696.0 249.7 L697.5 249.6 L699.0 249.5 L700.5 249.4 L701.9 249.0 L703.3 248.5 L704.6 247.8 L705.8 246.9 L707.0 245.9 L708.0 244.9 L709.0 243.7 L709.9 242.5 L710.8 241.3 L711.6 240.0 L712.3 238.7 L713.1 237.4 L713.7 236.0 L714.4 234.7 L715.0 233.3 L715.7 231.9 L716.3 230.5 L716.8 229.1 L717.4 227.7 L717.9 226.3 L718.4 224.9 L718.9 223.4 L719.3 222.0 L719.8 220.6 L720.2 219.1 L720.7 217.7 L721.1 216.2 L721.5 214.7 L721.8 213.3 L722.2 211.8 L722.5 210.3 L722.8 208.8 L723.1 207.4 L723.4 205.9 L723.7 204.4 L723.9 202.9 L724.2 201.4 L724.6 200.0 L724.9 198.5 L725.3 197.0 L725.7 195.6 L726.2 194.1 L726.7 192.7 L727.3 191.3 L728.0 190.0 L728.7 188.7 L729.5 187.4 L729.8 187.0 L730.7 188.2 L731.5 189.5 L732.4 190.7 L733.2 192.0 L733.9 193.3 L734.6 194.6 L735.3 196.0 L736.0 197.3 L736.6 198.7 L737.3 200.1 L737.9 201.4 L738.5 202.8 L739.1 204.2 L739.7 205.6 L740.3 207.0 L740.8 208.4 L741.4 209.7 L742.1 211.1 L742.7 212.5 L743.3 213.9 L743.9 215.2 L744.6 216.6 L745.2 218.0 L745.9 219.3 L746.5 220.7 L747.2 222.0 L748.0 223.3 L748.7 224.6 L749.5 225.9 L750.4 227.2 L751.2 228.4 L752.1 229.6 L753.0 230.8 L753.9 232.0 L754.9 233.2 L755.9 234.3 L757.0 235.3 L758.2 236.2 L759.4 237.1 L760.7 237.8 L762.1 238.4 L763.5 239.0 L764.9 239.6 L766.3 240.0 L767.8 240.4 L769.2 240.8 L770.7 241.1 L772.2 241.4 L773.7 241.7 L775.1 242.0 L776.6 242.2 L778.1 242.4 L779.6 242.7 L781.1 242.8 L782.6 243.0 L784.1 243.1 L785.6 243.2 L787.1 243.2 L788.5 242.9 L789.8 242.4 L790.9 241.5 L791.6 240.4 L792.1 239.0 L792.4 237.5 L792.7 236.1 L792.9 234.6 L793.1 233.1 L793.3 231.6 L793.5 230.1 L793.6 229.6 L793.8 231.1 L794.0 232.6 L794.3 234.2 L794.5 235.7 L794.8 237.2 L795.1 238.7 L795.5 240.2 L796.1 241.5 L796.9 242.7 L798.0 243.7 L799.3 244.5 L800.7 245.0 L802.2 245.5 L803.7 245.9 L805.2 246.2 L806.7 246.5 L808.2 246.8 L809.7 247.1 L811.2 247.4 L812.7 247.7 L814.3 247.9 L815.8 248.1 L817.3 248.3 L818.8 248.4 L820.4 248.5 L821.4 248.6" fill="none" stroke="#008000" stroke-width="4.40" stroke-linejoin="round" stroke-miterlimit="10" stroke-linecap="butt" clip-path="url(#cb)"/>
<path d="M673.3 249.2 L674.8 249.2 L676.3 249.2 L677.8 249.2 L679.3 249.2 L680.8 249.2 L682.3 249.1 L683.9 249.1 L685.4 249.1 L686.9 249.1 L688.4 249.0 L689.9 249.0 L691.4 248.9 L692.9 248.8 L694.4 248.7 L695.8 248.3 L697.2 247.8 L698.5 247.1 L699.8 246.3 L701.0 245.4 L702.1 244.4 L703.2 243.4 L704.2 242.3 L705.2 241.1 L706.1 239.9 L706.9 238.6 L707.7 237.3 L708.4 236.0 L709.1 234.7 L709.7 233.3 L710.3 231.9 L710.9 230.5 L711.5 229.1 L712.0 227.7 L712.5 226.3 L713.0 224.9 L713.5 223.4 L713.9 222.0 L714.3 220.6 L714.7 219.1 L715.1 217.7 L715.5 216.2 L715.9 214.7 L716.3 213.3 L716.6 211.8 L717.0 210.3 L717.3 208.9 L717.7 207.4 L718.0 205.9 L718.3 204.5 L718.6 203.0 L718.9 201.5 L719.2 200.0 L719.4 198.5 L719.7 197.0 L720.0 195.6 L720.2 194.1 L720.5 192.6 L720.8 191.1 L721.0 189.6 L721.3 188.1 L721.5 186.6 L721.8 185.2 L722.0 183.7 L722.2 182.2 L722.4 180.7 L722.6 179.2 L722.8 177.7 L723.0 176.2 L723.2 174.7 L723.4 173.2 L723.7 171.7 L724.0 170.2 L724.3 168.8 L724.6 167.3 L725.0 165.8 L725.4 164.4 L725.8 162.9 L726.3 161.5 L726.9 160.1 L727.6 158.8 L728.4 157.6 L729.3 158.8 L730.2 160.0 L731.1 161.2 L731.9 162.5 L732.7 163.8 L733.5 165.1 L734.1 166.5 L734.6 167.9 L735.1 169.3 L735.5 170.7 L735.9 172.2 L736.3 173.7 L736.7 175.1 L737.0 176.6 L737.4 178.1 L737.8 179.5 L738.1 181.0 L738.5 182.4 L738.9 183.9 L739.2 185.4 L739.6 186.9 L739.9 188.3 L740.3 189.8 L740.6 191.3 L741.0 192.7 L741.3 194.2 L741.7 195.7 L742.0 197.1 L742.4 198.6 L742.8 200.1 L743.2 201.5 L743.7 203.0 L744.1 204.4 L744.6 205.8 L745.1 207.3 L745.6 208.7 L746.1 210.1 L746.7 211.5 L747.2 212.9 L747.8 214.3 L748.4 215.7 L749.0 217.1 L749.7 218.4 L750.4 219.7 L751.2 221.1 L752.0 222.3 L752.8 223.6 L753.6 224.9 L754.5 226.1 L755.4 227.3 L756.3 228.5 L757.4 229.6 L758.4 230.7 L759.5 231.7 L760.7 232.6 L762.0 233.5 L763.2 234.3 L764.5 235.1 L765.8 235.9 L767.1 236.7 L768.4 237.4 L769.8 238.0 L771.2 238.6 L772.6 239.0 L774.0 239.4 L775.5 239.7 L777.0 240.1 L778.5 240.4 L780.0 240.7 L781.4 241.0 L782.9 241.2 L784.4 241.5 L785.9 241.6 L787.4 241.6 L788.8 241.4 L790.0 240.8 L790.9 239.8 L791.6 238.5 L792.0 237.1 L792.3 235.7 L792.6 234.2 L792.8 233.2 L793.1 234.7 L793.4 236.2 L793.8 237.7 L794.2 239.2 L794.8 240.5 L795.7 241.8 L796.7 242.8 L798.0 243.5 L799.4 244.1 L800.9 244.6 L802.3 245.0 L803.8 245.4 L805.3 245.8 L806.8 246.2 L808.3 246.6 L809.8 247.0 L811.3 247.3 L812.8 247.6 L814.3 247.9 L815.8 248.1 L817.3 248.3 L818.9 248.5 L820.4 248.7 L821.4 248.8" fill="none" stroke="#ff0000" stroke-width="4.60" stroke-linejoin="round" stroke-miterlimit="10" stroke-linecap="butt" clip-path="url(#cb)"/>
<text transform="translate(690.30 267.10) scale(1.000 1.000)" font-family='"Liberation Sans", sans-serif' font-size="12.20" text-anchor="middle" fill="#111" stroke="#111" stroke-width="0.18">700</text>
<text transform="translate(737.90 267.10) scale(1.000 1.000)" font-family='"Liberation Sans", sans-serif' font-size="12.20" text-anchor="middle" fill="#111" stroke="#111" stroke-width="0.18">750</text>
<text transform="translate(784.00 267.10) scale(1.000 1.000)" font-family='"Liberation Sans", sans-serif' font-size="12.20" text-anchor="middle" fill="#111" stroke="#111" stroke-width="0.18">800</text>
<text transform="translate(675.30 160.40) scale(1.000 1.000)" font-family='"Liberation Sans", sans-serif' font-size="13.30" text-anchor="start" fill="#111" stroke="#111" stroke-width="0.18">2E-3</text>
<text transform="translate(674.00 206.00) scale(1.000 1.000)" font-family='"Liberation Sans", sans-serif' font-size="13.30" text-anchor="start" fill="#111" stroke="#111" stroke-width="0.18">1E-3</text>
<text transform="translate(680.20 242.00) scale(1.000 1.000)" font-family='"Liberation Sans", sans-serif' font-size="13.30" text-anchor="start" fill="#111" stroke="#111" stroke-width="0.18">0</text>
<rect x="750.2" y="148.0" width="69.3" height="54.7" fill="#fff" stroke="#262626" stroke-width="1.2"/>
<path d="M758.4 157.50H783.3" stroke="#0000ff" stroke-width="4"/>
<text transform="translate(790.90 163.50) scale(1.000 1.000)" font-family='"Liberation Sans", sans-serif' font-size="13.50" text-anchor="start" fill="#111" stroke="#111" stroke-width="0.18">B1</text>
<path d="M758.4 175.10H783.3" stroke="#008000" stroke-width="4"/>
<text transform="translate(790.90 181.10) scale(1.000 1.000)" font-family='"Liberation Sans", sans-serif' font-size="13.50" text-anchor="start" fill="#111" stroke="#111" stroke-width="0.18">B2</text>
<path d="M758.4 192.70H783.3" stroke="#ff0000" stroke-width="4"/>
<text transform="translate(790.90 198.70) scale(1.000 1.000)" font-family='"Liberation Sans", sans-serif' font-size="13.50" text-anchor="start" fill="#111" stroke="#111" stroke-width="0.18">B3</text>
</svg>
</body></html>
